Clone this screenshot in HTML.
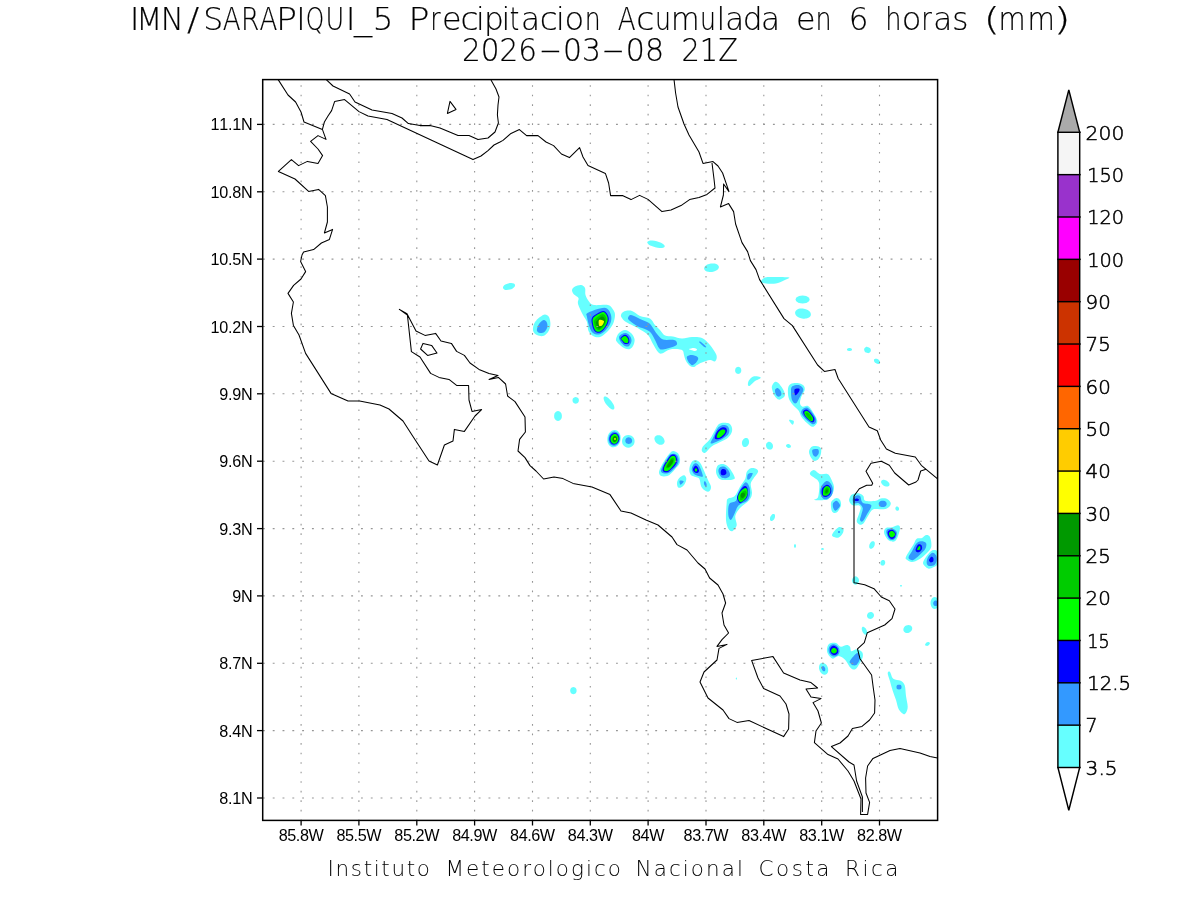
<!DOCTYPE html>
<html><head><meta charset="utf-8"><title>IMN SARAPIQUI_5 Precipitacion Acumulada</title>
<style>html,body{margin:0;padding:0;background:#fff}svg{display:block}</style></head>
<body>
<svg width="1200" height="900" viewBox="0 0 1200 900" style="will-change:transform">
<rect width="1200" height="900" fill="#fff"/>
<clipPath id="cp"><rect x="262.7" y="79.6" width="674.9" height="740.8"/></clipPath>
<g clip-path="url(#cp)" shape-rendering="auto">
<path d="M664.7 246.5C664.6 247.0 664.0 247.4 663.2 247.7C662.4 247.9 661.0 248.1 659.7 248.0C658.4 247.9 656.7 247.7 655.3 247.3C653.8 246.9 652.2 246.4 651.0 245.8C649.8 245.3 648.7 244.5 648.1 243.9C647.4 243.3 647.1 242.6 647.3 242.1C647.4 241.6 648.0 241.2 648.8 240.9C649.6 240.7 651.0 240.5 652.3 240.6C653.6 240.7 655.3 240.9 656.7 241.3C658.2 241.7 659.8 242.2 661.0 242.8C662.2 243.3 663.3 244.1 663.9 244.7C664.6 245.3 664.9 246.0 664.7 246.5Z" fill="#66ffff"/>
<path d="M718.9 266.7C719.0 267.3 718.8 268.2 718.2 268.9C717.7 269.6 716.7 270.3 715.7 270.8C714.7 271.3 713.3 271.7 712.1 271.9C710.8 272.0 709.4 272.0 708.3 271.8C707.2 271.6 706.1 271.2 705.4 270.7C704.7 270.2 704.2 269.4 704.1 268.7C704.0 268.1 704.2 267.2 704.8 266.5C705.3 265.8 706.3 265.1 707.3 264.6C708.3 264.1 709.7 263.7 710.9 263.5C712.2 263.4 713.6 263.4 714.7 263.6C715.8 263.8 716.9 264.2 717.6 264.7C718.3 265.2 718.8 266.0 718.9 266.7Z" fill="#66ffff"/>
<path d="M761.0 281.5C761.3 280.6 762.7 278.2 765.0 277.5C767.3 276.8 771.0 277.0 775.0 277.0C779.0 277.0 787.2 277.1 789.0 277.5C790.8 277.9 787.8 278.6 786.0 279.5C784.2 280.4 780.7 282.3 778.0 283.0C775.3 283.7 772.5 283.8 770.0 283.8C767.5 283.8 764.5 283.4 763.0 283.0C761.5 282.6 760.7 282.4 761.0 281.5Z" fill="#66ffff"/>
<path d="M809.6 299.5C809.6 300.2 809.2 301.0 808.7 301.6C808.1 302.1 807.1 302.7 806.1 303.1C805.1 303.4 803.8 303.6 802.6 303.6C801.4 303.6 800.1 303.4 799.1 303.1C798.1 302.7 797.1 302.1 796.5 301.6C796.0 301.0 795.6 300.2 795.6 299.5C795.6 298.8 796.0 298.0 796.5 297.4C797.1 296.9 798.1 296.3 799.1 295.9C800.1 295.6 801.4 295.4 802.6 295.4C803.8 295.4 805.1 295.6 806.1 295.9C807.1 296.3 808.1 296.9 808.7 297.4C809.2 298.0 809.6 298.8 809.6 299.5Z" fill="#66ffff"/>
<path d="M810.9 315.0C810.7 315.8 810.2 316.7 809.4 317.3C808.6 317.9 807.4 318.3 806.2 318.6C805.0 318.8 803.4 318.8 802.1 318.5C800.8 318.3 799.4 317.8 798.3 317.2C797.2 316.6 796.3 315.7 795.7 314.9C795.2 314.0 795.0 313.0 795.1 312.2C795.3 311.4 795.8 310.5 796.6 309.9C797.4 309.3 798.6 308.9 799.8 308.6C801.0 308.4 802.6 308.4 803.9 308.7C805.2 308.9 806.6 309.4 807.7 310.0C808.8 310.6 809.7 311.5 810.3 312.3C810.8 313.2 811.0 314.2 810.9 315.0Z" fill="#66ffff"/>
<path d="M852.0 349.5C852.0 349.8 851.9 350.0 851.7 350.2C851.5 350.5 851.1 350.7 850.8 350.8C850.4 350.9 849.9 351.0 849.5 351.0C849.1 351.0 848.6 350.9 848.2 350.8C847.9 350.7 847.5 350.5 847.3 350.2C847.1 350.0 847.0 349.8 847.0 349.5C847.0 349.2 847.1 349.0 847.3 348.8C847.5 348.5 847.9 348.3 848.2 348.2C848.6 348.1 849.1 348.0 849.5 348.0C849.9 348.0 850.4 348.1 850.8 348.2C851.1 348.3 851.5 348.5 851.7 348.8C851.9 349.0 852.0 349.2 852.0 349.5Z" fill="#66ffff"/>
<path d="M870.5 351.8C870.3 352.2 869.8 352.6 869.4 352.8C868.9 353.0 868.3 353.2 867.7 353.1C867.2 353.1 866.5 352.9 866.0 352.6C865.5 352.3 865.0 351.8 864.7 351.4C864.4 350.9 864.2 350.3 864.1 349.8C864.1 349.3 864.2 348.7 864.5 348.2C864.7 347.8 865.2 347.4 865.6 347.2C866.1 347.0 866.7 346.8 867.3 346.9C867.8 346.9 868.5 347.1 869.0 347.4C869.5 347.7 870.0 348.2 870.3 348.6C870.6 349.1 870.8 349.7 870.9 350.2C870.9 350.7 870.8 351.3 870.5 351.8Z" fill="#66ffff"/>
<path d="M879.8 363.3C879.6 363.6 879.2 363.8 878.8 363.9C878.4 364.0 877.8 364.0 877.3 363.8C876.8 363.7 876.2 363.4 875.7 363.1C875.3 362.8 874.8 362.3 874.5 361.9C874.2 361.5 874.0 360.9 874.0 360.5C873.9 360.1 874.0 359.7 874.2 359.3C874.4 359.0 874.8 358.8 875.2 358.7C875.6 358.6 876.2 358.6 876.7 358.8C877.2 358.9 877.8 359.2 878.3 359.5C878.7 359.8 879.2 360.3 879.5 360.7C879.8 361.1 880.0 361.7 880.0 362.1C880.1 362.5 880.0 362.9 879.8 363.3Z" fill="#66ffff"/>
<path d="M741.3 370.4C741.3 371.0 741.1 371.7 740.9 372.2C740.6 372.8 740.2 373.3 739.8 373.6C739.3 373.9 738.7 374.1 738.2 374.1C737.7 374.1 737.1 373.9 736.7 373.6C736.2 373.3 735.8 372.8 735.5 372.2C735.3 371.7 735.1 371.0 735.1 370.4C735.1 369.8 735.3 369.1 735.5 368.5C735.8 368.0 736.2 367.5 736.7 367.2C737.1 366.9 737.7 366.7 738.2 366.7C738.7 366.7 739.3 366.9 739.8 367.2C740.2 367.5 740.6 368.0 740.9 368.5C741.1 369.1 741.3 369.8 741.3 370.4Z" fill="#66ffff"/>
<path d="M748.0 385.3C747.8 384.5 747.9 382.1 748.7 380.7C749.5 379.3 751.2 377.4 752.7 376.7C754.2 376.0 756.7 376.2 758.0 376.4C759.3 376.6 761.2 377.2 760.7 378.0C760.2 378.8 756.5 380.0 754.7 381.3C752.9 382.6 751.1 385.0 750.0 385.7C748.9 386.4 748.2 386.1 748.0 385.3Z" fill="#66ffff"/>
<path d="M515.0 284.9C515.1 285.4 515.0 286.1 514.6 286.7C514.2 287.2 513.5 287.9 512.7 288.4C511.9 288.9 510.8 289.3 509.8 289.6C508.8 289.9 507.7 290.0 506.7 290.0C505.8 290.0 504.8 289.7 504.2 289.4C503.6 289.1 503.1 288.6 503.0 288.1C502.9 287.6 503.0 286.9 503.4 286.3C503.8 285.8 504.5 285.1 505.3 284.6C506.1 284.1 507.2 283.7 508.2 283.4C509.2 283.1 510.3 283.0 511.3 283.0C512.2 283.0 513.2 283.3 513.8 283.6C514.4 283.9 514.9 284.4 515.0 284.9Z" fill="#66ffff"/>
<path d="M533.0 328.0C533.2 326.3 533.8 323.8 535.0 322.0C536.2 320.2 538.3 318.3 540.0 317.0C541.7 315.7 543.5 314.4 545.0 314.4C546.5 314.4 548.1 315.2 549.0 317.0C549.9 318.8 550.6 322.5 550.4 325.0C550.2 327.5 549.2 330.2 548.0 332.0C546.8 333.8 544.8 335.5 543.0 336.0C541.2 336.5 538.6 335.7 537.0 335.0C535.4 334.3 534.3 333.2 533.6 332.0C532.9 330.8 532.8 329.7 533.0 328.0Z" fill="#66ffff"/>
<path d="M537.0 329.0C537.3 327.7 537.9 325.5 539.0 324.0C540.1 322.5 542.3 320.3 543.6 320.0C544.9 319.7 546.0 320.8 546.6 322.0C547.2 323.2 547.8 325.3 547.4 327.0C547.0 328.7 545.6 331.0 544.4 332.0C543.2 333.0 541.2 333.1 540.0 333.0C538.8 332.9 537.9 332.3 537.4 331.6C536.9 330.9 536.7 330.3 537.0 329.0Z" fill="#3399ff"/>
<path d="M572.0 290.0C572.2 288.7 573.5 287.3 575.0 286.5C576.5 285.7 579.3 284.8 581.0 285.0C582.7 285.2 584.2 286.3 585.0 288.0C585.8 289.7 584.8 292.8 585.5 295.0C586.2 297.2 587.6 299.8 589.0 301.5C590.4 303.2 590.8 304.4 594.0 305.0C597.2 305.6 604.8 304.2 608.0 305.0C611.2 305.8 611.8 307.8 613.0 309.5C614.2 311.2 615.0 312.6 615.0 315.0C615.0 317.4 614.3 321.2 613.0 324.0C611.7 326.8 609.2 329.8 607.0 332.0C604.8 334.2 602.3 336.3 600.0 337.0C597.7 337.7 594.9 337.0 593.0 336.0C591.1 335.0 589.5 333.3 588.5 331.0C587.5 328.7 587.9 324.7 587.0 322.0C586.1 319.3 584.5 318.0 583.0 315.0C581.5 312.0 578.8 306.8 578.0 304.0C577.2 301.2 579.2 299.6 578.5 298.0C577.8 296.4 575.1 295.8 574.0 294.5C572.9 293.2 571.8 291.3 572.0 290.0Z" fill="#66ffff"/>
<path d="M587.5 313.0C589.7 311.6 596.8 309.2 600.0 308.5C603.2 307.8 605.2 307.4 607.0 308.5C608.8 309.6 610.4 312.6 611.0 315.0C611.6 317.4 611.5 320.3 610.5 323.0C609.5 325.7 606.9 329.1 605.0 331.0C603.1 332.9 601.0 334.2 599.0 334.5C597.0 334.8 594.6 334.2 593.0 333.0C591.4 331.8 590.5 329.7 589.5 327.0C588.5 324.3 587.3 319.3 587.0 317.0C586.7 314.7 585.3 314.4 587.5 313.0Z" fill="#3399ff"/>
<path d="M592.2 317.5C593.6 315.3 598.4 312.8 600.5 311.8C602.6 310.8 603.7 310.6 605.0 311.5C606.3 312.4 608.0 315.1 608.5 317.0C609.0 318.9 608.8 320.9 608.0 323.0C607.2 325.1 605.5 327.9 604.0 329.5C602.5 331.1 600.6 332.6 599.0 332.8C597.4 333.1 595.6 332.3 594.5 331.0C593.4 329.7 592.6 327.2 592.2 325.0C591.8 322.8 590.8 319.7 592.2 317.5Z" fill="#0000ff"/>
<path d="M593.2 318.0C594.5 316.0 598.9 313.7 600.8 312.8C602.7 311.9 603.4 311.8 604.5 312.5C605.6 313.2 607.1 315.5 607.5 317.2C607.9 318.9 607.7 320.9 607.0 322.8C606.3 324.7 604.8 327.3 603.5 328.8C602.2 330.3 600.4 331.6 599.0 331.8C597.6 332.0 596.2 331.4 595.2 330.2C594.2 329.0 593.5 326.8 593.2 324.8C592.9 322.8 591.9 320.0 593.2 318.0Z" fill="#00ff00"/>
<path d="M594.5 320.0C595.6 318.3 599.4 315.4 601.0 314.5C602.6 313.6 603.1 313.9 604.0 314.5C604.9 315.1 606.0 316.6 606.2 318.0C606.5 319.4 606.1 321.4 605.5 323.0C604.9 324.6 603.6 326.3 602.5 327.5C601.4 328.7 600.0 329.8 599.0 330.0C598.0 330.2 597.0 329.4 596.2 328.5C595.5 327.6 594.8 325.9 594.5 324.5C594.2 323.1 593.4 321.7 594.5 320.0Z" fill="#00cc00"/>
<path d="M596.2 321.5C597.0 320.3 599.8 317.8 601.0 317.0C602.2 316.2 602.8 316.5 603.5 317.0C604.2 317.5 604.9 318.8 605.0 320.0C605.1 321.2 604.6 322.8 604.0 324.0C603.4 325.2 602.3 326.2 601.5 327.0C600.7 327.8 599.7 328.5 599.0 328.5C598.3 328.5 597.7 327.8 597.2 327.0C596.7 326.2 596.4 324.9 596.2 324.0C596.0 323.1 595.4 322.7 596.2 321.5Z" fill="#009900"/>
<path d="M599.0 320.0C599.7 319.2 602.2 320.2 603.0 320.5C603.8 320.8 604.1 321.1 604.0 321.8C603.9 322.6 603.0 324.3 602.5 325.0C602.0 325.7 601.6 325.9 601.0 326.0C600.4 326.1 599.3 326.5 599.0 325.5C598.7 324.5 598.3 320.8 599.0 320.0Z" fill="#ffff00"/>
<path d="M616.0 339.0C616.3 337.5 617.5 334.5 619.0 333.0C620.5 331.5 623.0 330.0 625.0 330.0C627.0 330.0 629.4 331.5 631.0 333.0C632.6 334.5 634.1 337.0 634.5 339.0C634.9 341.0 634.2 343.3 633.5 345.0C632.8 346.7 631.4 348.4 630.0 349.0C628.6 349.6 626.7 349.2 625.0 348.5C623.3 347.8 621.3 346.1 620.0 345.0C618.7 343.9 617.7 343.0 617.0 342.0C616.3 341.0 615.7 340.5 616.0 339.0Z" fill="#66ffff"/>
<path d="M619.0 337.0C619.2 335.6 620.8 334.7 622.0 334.0C623.2 333.3 624.7 332.7 626.0 333.0C627.3 333.3 629.1 334.7 630.0 336.0C630.9 337.3 631.7 339.3 631.5 341.0C631.3 342.7 630.1 345.2 629.0 346.0C627.9 346.8 626.3 346.6 625.0 346.0C623.7 345.4 622.0 344.0 621.0 342.5C620.0 341.0 618.8 338.4 619.0 337.0Z" fill="#3399ff"/>
<path d="M620.5 338.0C621.0 337.0 623.6 334.8 625.0 334.8C626.4 334.8 628.1 336.6 628.8 338.0C629.5 339.4 629.6 342.0 629.0 343.0C628.4 344.0 626.2 344.3 625.0 344.0C623.8 343.7 622.8 342.0 622.0 341.0C621.2 340.0 620.0 339.0 620.5 338.0Z" fill="#0000ff"/>
<path d="M621.2 338.5C621.6 337.8 623.9 335.9 625.0 336.0C626.1 336.1 627.5 337.7 628.0 338.8C628.5 339.9 628.5 341.8 628.0 342.5C627.5 343.2 625.9 343.1 625.0 342.8C624.1 342.5 623.1 341.2 622.5 340.5C621.9 339.8 620.8 339.2 621.2 338.5Z" fill="#00ff00"/>
<path d="M621.0 315.0C621.3 313.9 622.2 312.2 624.0 311.5C625.8 310.8 629.3 310.2 632.0 311.0C634.7 311.8 637.0 314.8 640.0 316.0C643.0 317.2 647.5 317.0 650.0 318.5C652.5 320.0 653.3 323.1 655.0 325.0C656.7 326.9 658.3 328.2 660.0 330.0C661.7 331.8 662.8 334.4 665.0 335.5C667.2 336.6 670.2 336.0 673.0 336.5C675.8 337.0 678.8 338.4 682.0 338.5C685.2 338.6 688.7 337.1 692.0 337.0C695.3 336.9 699.0 336.7 702.0 338.0C705.0 339.3 707.7 342.3 710.0 345.0C712.3 347.7 714.9 351.7 716.0 354.0C717.1 356.3 716.8 357.8 716.5 359.0C716.2 360.2 715.6 361.3 714.5 361.5C713.4 361.7 712.1 359.8 710.0 360.0C707.9 360.2 704.2 361.7 702.0 362.5C699.8 363.3 698.3 364.2 697.0 365.0C695.7 365.8 695.2 366.8 694.0 367.0C692.8 367.2 691.3 367.0 690.0 366.0C688.7 365.0 687.0 362.8 686.0 361.0C685.0 359.2 684.5 356.7 684.0 355.0C683.5 353.3 683.7 351.9 683.0 351.0C682.3 350.1 682.2 349.8 680.0 349.5C677.8 349.2 673.0 348.8 670.0 349.5C667.0 350.2 664.0 353.1 662.0 353.5C660.0 353.9 659.5 353.6 658.0 352.0C656.5 350.4 654.7 346.8 653.0 344.0C651.3 341.2 650.2 337.4 648.0 335.0C645.8 332.6 642.0 330.8 640.0 329.5C638.0 328.2 638.3 328.2 636.0 327.0C633.7 325.8 628.3 323.5 626.0 322.0C623.7 320.5 622.8 319.2 622.0 318.0C621.2 316.8 620.7 316.1 621.0 315.0Z" fill="#66ffff"/>
<path d="M628.0 318.0C628.2 317.0 629.0 314.8 631.0 315.0C633.0 315.2 637.0 317.7 640.0 319.0C643.0 320.3 646.8 321.5 649.0 323.0C651.2 324.5 651.7 326.2 653.0 328.0C654.3 329.8 655.3 332.1 657.0 334.0C658.7 335.9 660.2 338.5 663.0 339.5C665.8 340.5 671.7 339.4 674.0 340.0C676.3 340.6 676.8 342.0 677.0 343.0C677.2 344.0 677.3 344.9 675.0 346.0C672.7 347.1 665.7 349.2 663.0 349.5C660.3 349.8 660.3 349.6 659.0 348.0C657.7 346.4 656.3 342.5 655.0 340.0C653.7 337.5 652.5 334.8 651.0 333.0C649.5 331.2 648.2 330.6 646.0 329.5C643.8 328.4 640.7 327.9 638.0 326.5C635.3 325.1 631.7 322.4 630.0 321.0C628.3 319.6 627.8 319.0 628.0 318.0Z" fill="#3399ff"/>
<path d="M687.0 356.5C687.7 355.5 690.2 354.9 692.0 355.0C693.8 355.1 696.5 356.2 697.5 357.0C698.5 357.8 698.3 358.8 697.8 360.0C697.3 361.2 695.5 363.2 694.5 364.0C693.5 364.8 692.6 365.5 691.5 365.0C690.4 364.5 688.8 362.4 688.0 361.0C687.2 359.6 686.3 357.5 687.0 356.5Z" fill="#3399ff"/>
<path d="M699.0 342.0C698.8 341.5 699.8 341.2 701.0 342.0C702.2 342.8 705.3 345.6 706.0 346.5C706.7 347.4 705.7 347.6 705.0 347.3C704.3 347.1 703.0 345.9 702.0 345.0C701.0 344.1 699.2 342.5 699.0 342.0Z" fill="#3399ff"/>
<path d="M689.0 349.0C689.5 348.7 692.7 347.9 694.0 348.0C695.3 348.1 696.8 349.0 697.0 349.5C697.2 350.0 696.0 350.9 695.0 351.0C694.0 351.1 692.0 350.3 691.0 350.0C690.0 349.7 688.5 349.3 689.0 349.0Z" fill="#ffffff"/>
<path d="M772.0 386.0C772.4 384.7 773.7 382.6 774.7 382.0C775.7 381.4 776.7 381.6 778.0 382.7C779.3 383.8 781.5 386.7 782.7 388.7C783.9 390.7 785.0 393.1 785.0 394.7C785.0 396.2 783.8 397.2 782.7 398.0C781.7 398.8 780.0 399.9 778.7 399.6C777.4 399.3 775.8 397.6 774.7 396.0C773.6 394.4 772.8 391.7 772.3 390.0C771.8 388.3 771.6 387.3 772.0 386.0Z" fill="#66ffff"/>
<path d="M775.0 390.0C775.3 388.9 776.6 387.8 777.6 388.0C778.6 388.2 780.1 390.2 780.7 391.3C781.3 392.4 781.6 393.8 781.3 394.7C781.0 395.6 779.6 396.7 778.7 396.7C777.8 396.7 776.6 395.8 776.0 394.7C775.4 393.6 774.7 391.1 775.0 390.0Z" fill="#3399ff"/>
<path d="M788.0 388.7C788.3 386.4 789.2 384.9 790.7 384.0C792.2 383.1 795.2 382.8 797.3 383.0C799.4 383.2 802.1 384.1 803.3 385.3C804.5 386.5 805.0 388.1 804.7 390.0C804.4 391.9 802.1 394.5 801.3 396.7C800.5 398.9 799.8 401.6 800.0 403.3C800.2 405.0 801.4 406.2 802.7 406.7C804.0 407.1 806.2 405.0 808.0 406.0C809.8 407.0 811.8 410.2 813.3 412.7C814.8 415.1 817.0 418.6 817.3 420.7C817.6 422.8 816.2 424.3 815.3 425.3C814.4 426.3 813.4 427.1 812.0 426.7C810.6 426.3 808.5 424.4 806.7 422.7C804.9 421.0 802.6 418.7 801.3 416.7C800.0 414.7 800.1 412.7 798.7 410.7C797.3 408.7 794.4 406.8 792.7 404.7C791.0 402.6 789.5 400.7 788.7 398.0C787.9 395.3 787.7 391.0 788.0 388.7Z" fill="#66ffff"/>
<path d="M791.0 390.0C791.1 387.7 791.4 386.8 792.7 386.0C794.0 385.2 797.0 384.7 798.7 385.0C800.4 385.3 802.0 386.9 802.7 388.0C803.4 389.1 803.5 389.9 803.0 391.3C802.5 392.8 801.2 394.7 800.0 396.7C798.8 398.7 797.3 402.8 796.0 403.3C794.7 403.9 792.8 402.2 792.0 400.0C791.2 397.8 790.9 392.3 791.0 390.0Z" fill="#3399ff"/>
<path d="M794.7 389.3C795.4 388.2 798.6 388.2 799.3 388.7C800.0 389.1 799.4 390.9 798.7 392.0C798.0 393.1 796.0 395.8 795.3 395.3C794.6 394.9 794.0 390.4 794.7 389.3Z" fill="#0000ff"/>
<path d="M801.3 411.3C801.6 410.2 802.9 408.9 804.0 408.3C805.1 407.8 806.5 407.1 808.0 408.0C809.5 408.9 812.0 412.1 813.3 414.0C814.6 415.9 815.7 417.8 816.0 419.3C816.3 420.9 816.0 422.5 815.3 423.3C814.6 424.1 813.4 424.6 812.0 424.0C810.6 423.4 808.4 421.6 806.7 420.0C805.0 418.4 802.9 416.1 802.0 414.7C801.1 413.2 801.0 412.4 801.3 411.3Z" fill="#3399ff"/>
<path d="M803.0 412.0C803.0 410.8 804.3 409.9 805.3 409.7C806.2 409.5 807.2 409.4 808.7 410.7C810.2 412.0 813.1 415.5 814.0 417.3C814.9 419.1 814.5 420.5 814.0 421.3C813.5 422.1 812.8 422.8 811.3 422.0C809.8 421.2 806.7 418.4 805.3 416.7C803.9 415.0 803.0 413.2 803.0 412.0Z" fill="#0000ff"/>
<path d="M804.3 412.7C804.3 411.8 805.3 411.1 806.0 411.0C806.7 410.9 807.6 410.9 808.7 412.0C809.8 413.1 812.0 415.9 812.7 417.3C813.4 418.8 813.0 420.1 812.7 420.7C812.4 421.3 811.8 421.7 810.7 421.0C809.6 420.3 807.1 417.8 806.0 416.4C804.9 415.0 804.3 413.6 804.3 412.7Z" fill="#00ff00"/>
<path d="M805.6 413.4C805.6 412.8 806.5 412.6 807.0 412.6C807.5 412.6 808.1 412.8 808.9 413.6C809.7 414.4 811.1 416.5 811.6 417.5C812.1 418.5 811.8 419.4 811.6 419.8C811.4 420.2 811.0 420.4 810.2 419.9C809.4 419.3 807.8 417.6 807.0 416.5C806.2 415.4 805.6 414.0 805.6 413.4Z" fill="#00cc00"/>
<path d="M789.0 420.0C789.2 419.4 793.1 420.2 793.7 421.0C794.3 421.8 793.3 424.9 792.5 424.7C791.7 424.5 788.8 420.6 789.0 420.0Z" fill="#66ffff"/>
<path d="M748.9 443.4C748.7 444.1 748.3 444.9 747.8 445.5C747.4 446.1 746.7 446.6 746.2 446.8C745.6 447.0 744.9 447.1 744.3 446.9C743.7 446.8 743.2 446.4 742.8 445.9C742.4 445.4 742.1 444.7 742.0 443.9C741.9 443.2 741.9 442.3 742.1 441.6C742.3 440.9 742.7 440.1 743.2 439.5C743.6 438.9 744.3 438.4 744.8 438.2C745.4 438.0 746.1 437.9 746.7 438.1C747.3 438.2 747.8 438.6 748.2 439.1C748.6 439.6 748.9 440.3 749.0 441.1C749.1 441.8 749.1 442.7 748.9 443.4Z" fill="#66ffff"/>
<path d="M772.7 444.6C772.9 445.3 773.0 446.0 773.0 446.7C772.9 447.3 772.6 448.0 772.3 448.5C771.9 449.0 771.4 449.4 770.9 449.6C770.3 449.8 769.7 449.8 769.1 449.6C768.5 449.5 767.9 449.1 767.4 448.7C767.0 448.2 766.5 447.6 766.3 447.0C766.1 446.3 766.0 445.6 766.0 444.9C766.1 444.3 766.4 443.6 766.7 443.1C767.1 442.6 767.6 442.2 768.1 442.0C768.7 441.8 769.3 441.8 769.9 442.0C770.5 442.1 771.1 442.5 771.6 442.9C772.0 443.4 772.5 444.0 772.7 444.6Z" fill="#66ffff"/>
<path d="M790.8 446.9C790.7 447.2 790.5 447.4 790.2 447.6C789.9 447.8 789.5 447.9 789.1 448.0C788.7 448.0 788.2 447.9 787.9 447.8C787.5 447.6 787.0 447.4 786.8 447.1C786.5 446.8 786.2 446.5 786.1 446.2C786.0 445.8 786.0 445.4 786.2 445.1C786.3 444.8 786.5 444.6 786.8 444.4C787.1 444.2 787.5 444.1 787.9 444.0C788.3 444.0 788.8 444.1 789.1 444.2C789.5 444.4 790.0 444.6 790.2 444.9C790.5 445.2 790.8 445.5 790.9 445.8C791.0 446.2 791.0 446.6 790.8 446.9Z" fill="#66ffff"/>
<path d="M809.0 452.0C809.0 450.2 810.1 448.0 811.3 447.0C812.5 446.0 814.4 445.8 816.0 446.0C817.6 446.2 819.9 446.8 820.7 448.0C821.5 449.2 821.3 451.5 821.0 453.3C820.7 455.1 819.8 457.4 818.7 458.7C817.7 460.0 815.9 461.1 814.7 461.0C813.5 460.9 812.2 459.5 811.3 458.0C810.3 456.5 809.0 453.8 809.0 452.0Z" fill="#66ffff"/>
<path d="M812.4 450.0C813.2 449.0 817.0 448.8 818.0 449.3C819.0 449.9 819.0 452.1 818.7 453.3C818.4 454.5 816.9 456.4 816.0 456.7C815.1 457.0 813.9 456.4 813.3 455.3C812.7 454.2 811.6 451.0 812.4 450.0Z" fill="#3399ff"/>
<path d="M611.4 401.2C612.2 402.2 613.0 403.5 613.5 404.6C614.0 405.6 614.4 406.7 614.4 407.5C614.5 408.3 614.3 409.0 613.9 409.3C613.5 409.6 612.8 409.6 612.1 409.4C611.3 409.1 610.3 408.5 609.4 407.8C608.5 407.0 607.5 405.9 606.6 404.8C605.8 403.8 605.0 402.5 604.5 401.4C604.0 400.4 603.6 399.3 603.6 398.5C603.5 397.7 603.7 397.0 604.1 396.7C604.5 396.4 605.2 396.4 605.9 396.6C606.7 396.9 607.7 397.5 608.6 398.2C609.5 399.0 610.5 400.1 611.4 401.2Z" fill="#66ffff"/>
<path d="M620.6 439.6C620.4 441.1 619.9 442.6 619.1 443.8C618.4 445.0 617.3 446.0 616.3 446.6C615.2 447.2 613.9 447.5 612.8 447.3C611.7 447.2 610.5 446.5 609.6 445.7C608.8 444.8 608.0 443.5 607.6 442.2C607.3 440.9 607.2 439.2 607.4 437.8C607.6 436.3 608.1 434.8 608.9 433.6C609.6 432.4 610.7 431.4 611.7 430.8C612.8 430.2 614.1 429.9 615.2 430.1C616.3 430.2 617.5 430.9 618.4 431.7C619.2 432.6 620.0 433.9 620.4 435.2C620.7 436.5 620.8 438.2 620.6 439.6Z" fill="#66ffff"/>
<path d="M619.8 439.5C619.7 440.7 619.2 442.0 618.6 442.9C618.0 443.9 617.1 444.7 616.2 445.2C615.3 445.7 614.2 445.9 613.2 445.7C612.3 445.6 611.3 445.1 610.5 444.4C609.8 443.7 609.1 442.6 608.8 441.5C608.5 440.4 608.4 439.1 608.6 437.9C608.7 436.7 609.2 435.4 609.8 434.5C610.4 433.5 611.3 432.7 612.2 432.2C613.1 431.7 614.2 431.5 615.2 431.7C616.1 431.8 617.1 432.3 617.9 433.0C618.6 433.7 619.3 434.8 619.6 435.9C619.9 437.0 620.0 438.3 619.8 439.5Z" fill="#3399ff"/>
<path d="M619.3 439.5C619.1 440.4 618.7 441.5 618.2 442.3C617.7 443.0 616.9 443.7 616.1 444.1C615.4 444.5 614.4 444.7 613.6 444.5C612.8 444.4 611.9 444.0 611.3 443.4C610.6 442.9 610.1 442.0 609.8 441.1C609.5 440.2 609.4 439.1 609.5 438.1C609.7 437.2 610.1 436.1 610.6 435.3C611.1 434.6 611.9 433.9 612.7 433.5C613.4 433.1 614.4 432.9 615.2 433.1C616.0 433.2 616.9 433.6 617.5 434.2C618.2 434.7 618.7 435.6 619.0 436.5C619.3 437.4 619.4 438.5 619.3 439.5Z" fill="#0000ff"/>
<path d="M618.5 439.5C618.3 440.3 618.0 441.2 617.6 441.8C617.2 442.5 616.5 443.1 615.9 443.4C615.3 443.7 614.5 443.8 613.8 443.8C613.2 443.7 612.4 443.3 611.9 442.8C611.4 442.3 611.0 441.6 610.7 440.8C610.5 440.1 610.4 439.2 610.5 438.3C610.7 437.5 611.0 436.6 611.4 436.0C611.8 435.3 612.5 434.7 613.1 434.4C613.7 434.1 614.5 434.0 615.2 434.0C615.8 434.1 616.6 434.5 617.1 435.0C617.6 435.5 618.0 436.2 618.3 437.0C618.5 437.7 618.6 438.6 618.5 439.5Z" fill="#00ff00"/>
<path d="M617.1 439.3C617.0 439.8 616.8 440.4 616.6 440.8C616.3 441.2 615.9 441.5 615.6 441.7C615.2 441.9 614.8 442.0 614.4 442.0C614.0 441.9 613.6 441.7 613.3 441.4C613.0 441.1 612.7 440.7 612.6 440.2C612.5 439.8 612.5 439.2 612.5 438.7C612.6 438.2 612.8 437.6 613.0 437.2C613.3 436.8 613.7 436.5 614.0 436.3C614.4 436.1 614.8 436.0 615.2 436.0C615.6 436.1 616.0 436.3 616.3 436.6C616.6 436.9 616.9 437.3 617.0 437.8C617.1 438.2 617.1 438.8 617.1 439.3Z" fill="#009900"/>
<path d="M615.9 439.0C615.9 439.1 615.9 439.3 615.8 439.4C615.7 439.6 615.6 439.7 615.5 439.8C615.3 439.9 615.1 439.9 615.0 439.9C614.9 439.9 614.7 439.9 614.5 439.8C614.4 439.7 614.3 439.6 614.2 439.4C614.1 439.3 614.1 439.1 614.1 439.0C614.1 438.9 614.1 438.7 614.2 438.6C614.3 438.4 614.4 438.3 614.5 438.2C614.7 438.1 614.9 438.1 615.0 438.1C615.1 438.1 615.3 438.1 615.5 438.2C615.6 438.3 615.7 438.4 615.8 438.6C615.9 438.7 615.9 438.9 615.9 439.0Z" fill="#ffff00"/>
<path d="M634.6 441.3C634.6 442.4 634.3 443.6 633.8 444.5C633.2 445.4 632.4 446.3 631.4 446.8C630.5 447.4 629.3 447.7 628.3 447.7C627.2 447.7 626.1 447.4 625.1 446.8C624.2 446.3 623.4 445.4 622.8 444.5C622.3 443.6 622.0 442.4 622.0 441.3C622.0 440.2 622.3 439.0 622.8 438.1C623.4 437.2 624.2 436.3 625.1 435.8C626.1 435.2 627.2 434.9 628.3 434.9C629.3 434.9 630.5 435.2 631.4 435.8C632.4 436.3 633.2 437.2 633.8 438.1C634.3 439.0 634.6 440.2 634.6 441.3Z" fill="#66ffff"/>
<path d="M632.1 440.7C632.1 441.3 631.9 441.9 631.6 442.4C631.4 442.9 630.9 443.4 630.4 443.6C629.9 443.9 629.3 444.1 628.7 444.1C628.1 444.1 627.5 443.9 627.0 443.6C626.5 443.4 626.0 442.9 625.8 442.4C625.5 441.9 625.3 441.3 625.3 440.7C625.3 440.1 625.5 439.5 625.8 439.0C626.0 438.5 626.5 438.0 627.0 437.8C627.5 437.5 628.1 437.3 628.7 437.3C629.3 437.3 629.9 437.5 630.4 437.8C630.9 438.0 631.4 438.5 631.6 439.0C631.9 439.5 632.1 440.1 632.1 440.7Z" fill="#3399ff"/>
<path d="M663.8 443.6C663.3 444.1 662.6 444.6 661.8 444.8C661.1 444.9 660.1 444.9 659.3 444.7C658.4 444.4 657.5 443.9 656.7 443.3C656.0 442.7 655.4 441.8 655.0 441.1C654.6 440.3 654.4 439.3 654.4 438.5C654.4 437.8 654.7 436.9 655.2 436.4C655.7 435.9 656.4 435.4 657.2 435.2C657.9 435.1 658.9 435.1 659.7 435.3C660.6 435.6 661.5 436.1 662.3 436.7C663.0 437.3 663.6 438.2 664.0 438.9C664.4 439.7 664.6 440.7 664.6 441.5C664.6 442.2 664.3 443.1 663.8 443.6Z" fill="#66ffff"/>
<path d="M659.0 472.7C658.9 471.2 659.7 469.5 660.7 467.3C661.8 465.1 663.8 461.7 665.3 459.3C666.8 456.9 668.7 454.4 670.0 453.0C671.3 451.6 672.0 450.9 673.3 451.0C674.6 451.1 676.9 452.0 678.0 453.3C679.1 454.6 679.8 456.9 680.0 458.7C680.2 460.5 680.1 462.3 679.3 464.0C678.5 465.7 676.6 467.1 675.3 468.7C674.0 470.2 672.6 472.1 671.3 473.3C670.0 474.5 669.0 475.6 667.3 476.0C665.6 476.4 662.7 476.6 661.3 476.0C659.9 475.4 659.1 474.1 659.0 472.7Z" fill="#66ffff"/>
<path d="M661.0 471.3C660.8 470.2 661.3 468.7 662.3 466.7C663.2 464.7 665.3 461.4 666.7 459.3C668.1 457.2 669.3 455.2 670.7 454.3C672.1 453.4 674.1 453.6 675.3 454.0C676.5 454.4 677.4 455.5 678.0 456.7C678.6 457.9 678.9 459.8 678.7 461.3C678.5 462.9 677.7 464.6 676.7 466.0C675.7 467.4 674.0 468.8 672.7 470.0C671.4 471.2 670.3 472.4 668.7 473.0C667.1 473.6 664.6 473.6 663.3 473.3C662.0 473.0 661.2 472.4 661.0 471.3Z" fill="#3399ff"/>
<path d="M662.7 470.0C662.7 468.9 663.1 467.2 664.0 465.3C664.9 463.4 666.8 460.4 668.0 458.7C669.2 457.0 670.1 455.6 671.3 455.0C672.5 454.4 674.0 454.4 675.0 455.0C676.0 455.6 676.7 457.5 677.0 458.7C677.3 459.9 677.4 460.8 677.0 462.0C676.6 463.2 675.7 464.8 674.7 466.0C673.8 467.2 672.4 468.3 671.3 469.3C670.2 470.3 669.2 471.5 668.0 471.9C666.8 472.3 665.2 472.2 664.3 471.9C663.4 471.6 662.8 471.1 662.7 470.0Z" fill="#0000ff"/>
<path d="M663.9 469.3C663.9 468.4 664.2 467.3 665.0 465.7C665.8 464.1 667.6 461.3 668.7 459.7C669.8 458.1 670.7 456.9 671.7 456.3C672.7 455.7 674.0 455.8 674.7 456.3C675.4 456.8 675.8 458.3 676.0 459.3C676.2 460.3 676.2 461.2 675.7 462.3C675.2 463.4 674.1 464.6 673.3 465.7C672.5 466.8 671.6 467.8 670.7 468.7C669.8 469.6 669.0 470.4 668.0 470.8C667.0 471.2 665.4 471.1 664.7 470.8C664.0 470.6 663.9 470.2 663.9 469.3Z" fill="#00ff00"/>
<path d="M666.0 466.7C666.3 465.4 668.2 462.1 669.3 460.7C670.3 459.2 671.5 458.2 672.3 458.0C673.1 457.8 674.2 458.4 674.3 459.3C674.4 460.2 673.7 462.1 673.0 463.3C672.3 464.5 671.0 465.9 670.0 466.7C669.0 467.5 668.0 468.3 667.3 468.3C666.6 468.3 665.7 468.0 666.0 466.7Z" fill="#00cc00"/>
<path d="M667.0 466.0C667.2 465.1 668.9 462.8 669.7 461.7C670.5 460.6 671.5 459.4 672.0 459.3C672.5 459.2 673.1 460.4 673.0 461.3C672.9 462.2 672.0 463.7 671.3 464.7C670.6 465.7 669.4 467.1 668.7 467.3C668.0 467.5 666.8 466.9 667.0 466.0Z" fill="#009900"/>
<path d="M702.0 451.3C701.6 450.3 701.5 448.6 702.7 446.7C703.9 444.8 707.5 442.2 709.3 440.0C711.1 437.8 712.0 435.6 713.3 433.3C714.6 431.0 716.0 427.7 717.3 426.0C718.6 424.3 719.4 423.4 721.3 423.0C723.2 422.6 726.9 422.5 728.7 423.3C730.5 424.1 731.6 426.3 732.0 428.0C732.4 429.7 732.2 431.5 731.3 433.3C730.4 435.1 728.8 437.1 726.7 438.7C724.6 440.3 721.3 441.4 718.7 442.7C716.1 444.0 713.5 445.0 711.3 446.7C709.1 448.4 706.8 451.9 705.3 452.7C703.8 453.5 702.4 452.3 702.0 451.3Z" fill="#66ffff"/>
<path d="M710.7 443.3C710.2 442.5 712.2 439.7 713.3 437.3C714.4 434.9 715.8 430.7 717.3 428.7C718.8 426.7 720.3 425.8 722.0 425.3C723.7 424.9 726.1 425.2 727.3 426.0C728.5 426.8 729.2 428.6 729.3 430.0C729.4 431.4 729.1 433.2 728.0 434.7C726.9 436.1 724.7 437.5 722.7 438.7C720.7 439.9 718.0 441.2 716.0 442.0C714.0 442.8 711.2 444.1 710.7 443.3Z" fill="#3399ff"/>
<path d="M714.7 438.0C714.6 436.7 716.1 433.0 717.3 431.3C718.5 429.6 720.5 428.2 722.0 427.6C723.5 427.1 725.2 427.3 726.0 428.0C726.8 428.7 727.2 430.6 726.7 432.0C726.2 433.4 724.8 435.5 723.3 436.7C721.8 437.9 719.4 439.1 718.0 439.3C716.6 439.5 714.8 439.3 714.7 438.0Z" fill="#0000ff"/>
<path d="M716.7 436.7C716.7 435.7 717.8 433.2 718.7 432.0C719.7 430.8 721.4 429.9 722.4 429.6C723.4 429.3 724.6 429.5 725.0 430.0C725.4 430.5 725.5 431.7 725.0 432.7C724.5 433.7 723.0 435.1 722.0 436.0C721.0 436.9 719.6 437.9 718.7 438.0C717.8 438.1 716.7 437.7 716.7 436.7Z" fill="#00ff00"/>
<path d="M689.3 469.3C689.4 467.3 690.3 464.2 691.3 462.7C692.3 461.1 693.8 460.0 695.3 460.0C696.8 460.0 698.5 460.9 700.0 462.7C701.5 464.5 702.7 467.8 704.0 470.7C705.3 473.6 706.8 477.3 708.0 480.0C709.2 482.7 710.8 484.8 711.0 486.7C711.2 488.6 710.2 490.6 709.3 491.3C708.3 492.0 706.6 491.5 705.3 490.7C704.0 489.9 702.3 488.7 701.3 486.7C700.3 484.7 700.4 480.4 699.3 478.7C698.2 477.0 696.1 477.4 694.7 476.7C693.3 476.0 691.6 475.9 690.7 474.7C689.8 473.5 689.2 471.3 689.3 469.3Z" fill="#66ffff"/>
<path d="M691.7 469.3C691.6 467.8 692.6 465.7 693.3 464.7C694.0 463.7 695.0 463.1 696.0 463.3C697.0 463.5 698.3 464.4 699.3 466.0C700.3 467.6 701.4 470.9 702.0 472.7C702.6 474.5 703.2 476.1 702.7 476.7C702.2 477.2 700.2 476.4 698.7 476.0C697.2 475.6 695.2 475.1 694.0 474.0C692.8 472.9 691.8 470.9 691.7 469.3Z" fill="#3399ff"/>
<path d="M693.0 469.3C693.1 468.3 694.3 466.4 695.0 466.0C695.7 465.6 696.6 465.9 697.3 466.7C698.0 467.5 699.0 469.6 699.0 470.7C699.0 471.8 698.1 472.8 697.3 473.0C696.5 473.2 695.1 472.6 694.4 472.0C693.7 471.4 692.9 470.3 693.0 469.3Z" fill="#0000ff"/>
<path d="M697.2 470.0C697.2 470.3 697.1 470.6 697.0 470.8C696.9 471.0 696.8 471.3 696.6 471.4C696.4 471.5 696.2 471.6 696.0 471.6C695.8 471.6 695.6 471.5 695.4 471.4C695.2 471.3 695.1 471.0 695.0 470.8C694.9 470.6 694.8 470.3 694.8 470.0C694.8 469.7 694.9 469.4 695.0 469.2C695.1 469.0 695.2 468.7 695.4 468.6C695.6 468.5 695.8 468.4 696.0 468.4C696.2 468.4 696.4 468.5 696.6 468.6C696.8 468.7 696.9 469.0 697.0 469.2C697.1 469.4 697.2 469.7 697.2 470.0Z" fill="#00ff00"/>
<path d="M706.5 483.7C706.6 484.1 706.7 484.7 706.7 485.1C706.7 485.5 706.6 485.9 706.5 486.2C706.4 486.5 706.2 486.7 706.0 486.7C705.8 486.8 705.6 486.7 705.3 486.5C705.1 486.3 704.9 486.0 704.7 485.6C704.5 485.3 704.3 484.8 704.1 484.3C704.0 483.9 703.9 483.3 703.9 482.9C703.9 482.5 704.0 482.1 704.1 481.8C704.2 481.5 704.4 481.3 704.6 481.3C704.8 481.2 705.0 481.3 705.3 481.5C705.5 481.7 705.7 482.0 705.9 482.4C706.1 482.7 706.3 483.2 706.5 483.7Z" fill="#3399ff"/>
<path d="M677.0 482.7C677.2 481.1 678.1 479.2 679.3 478.0C680.5 476.8 682.8 475.2 684.0 475.3C685.2 475.4 686.2 477.2 686.3 478.7C686.4 480.1 685.5 482.6 684.7 484.0C683.9 485.4 682.4 486.8 681.3 487.3C680.2 487.9 678.7 488.1 678.0 487.3C677.3 486.5 676.8 484.2 677.0 482.7Z" fill="#66ffff"/>
<path d="M679.7 480.7C680.2 480.2 683.6 480.8 683.7 481.5C683.8 482.2 681.2 484.8 680.5 484.7C679.8 484.6 679.2 481.2 679.7 480.7Z" fill="#3399ff"/>
<path d="M716.0 470.7C716.1 468.9 716.8 466.4 718.0 465.3C719.2 464.2 721.4 463.6 723.3 464.0C725.2 464.4 727.4 465.8 729.3 468.0C731.2 470.2 734.2 475.4 734.7 477.3C735.2 479.2 734.2 479.3 732.0 479.7C729.8 480.1 723.8 480.3 721.3 479.7C718.8 479.1 718.2 477.5 717.3 476.0C716.4 474.5 715.9 472.5 716.0 470.7Z" fill="#66ffff"/>
<path d="M718.4 471.3C718.2 469.6 719.0 468.1 720.0 467.3C721.0 466.5 723.2 466.1 724.7 466.7C726.2 467.3 727.8 469.3 728.7 470.7C729.6 472.1 730.3 474.1 730.0 475.3C729.7 476.5 728.2 477.7 726.7 478.0C725.2 478.3 722.7 478.4 721.3 477.3C719.9 476.2 718.6 473.0 718.4 471.3Z" fill="#3399ff"/>
<path d="M720.7 472.0C720.8 471.1 721.2 469.7 722.0 469.3C722.8 468.9 724.6 468.9 725.3 469.6C726.0 470.3 726.6 472.4 726.4 473.3C726.2 474.2 724.9 475.1 724.0 475.3C723.1 475.5 721.8 475.2 721.3 474.7C720.8 474.1 720.6 472.9 720.7 472.0Z" fill="#0000ff"/>
<path d="M746.7 472.0C747.6 470.3 749.2 468.9 750.7 468.3C752.2 467.8 754.8 468.1 756.0 468.7C757.2 469.3 758.5 470.3 758.0 472.0C757.5 473.7 754.5 476.7 753.3 478.7C752.1 480.7 750.9 481.6 750.7 484.0C750.5 486.4 752.2 490.6 752.0 493.3C751.8 496.0 751.3 497.6 749.3 500.0C747.3 502.4 742.3 505.3 740.0 508.0C737.7 510.7 735.8 513.1 735.3 516.0C734.8 518.9 737.1 522.8 736.7 525.3C736.3 527.8 734.0 530.3 732.7 531.0C731.4 531.7 729.8 531.1 728.7 529.3C727.6 527.5 726.3 524.4 726.0 520.0C725.7 515.6 726.4 506.2 726.7 502.7C727.0 499.1 726.7 499.8 728.0 498.7C729.3 497.6 732.7 498.0 734.7 496.0C736.7 494.0 738.2 489.6 740.0 486.7C741.8 483.8 744.2 481.1 745.3 478.7C746.4 476.2 745.8 473.7 746.7 472.0Z" fill="#66ffff"/>
<path d="M748.0 474.0C748.9 473.0 752.4 472.5 752.7 473.3C753.0 474.1 750.9 477.7 750.0 478.7C749.1 479.7 747.6 480.1 747.3 479.3C747.0 478.5 747.1 475.0 748.0 474.0Z" fill="#3399ff"/>
<path d="M745.3 482.4C747.1 481.5 748.5 484.6 749.3 486.7C750.1 488.8 750.4 492.3 750.0 494.7C749.6 497.1 748.6 499.5 746.7 501.3C744.8 503.1 740.8 503.1 738.7 505.3C736.6 507.5 735.3 512.2 734.0 514.7C732.7 517.2 731.7 520.0 730.7 520.0C729.8 520.0 728.5 517.4 728.3 514.7C728.1 512.0 728.0 506.3 729.3 504.0C730.6 501.7 734.4 502.7 736.0 500.7C737.6 498.7 737.2 495.1 738.7 492.0C740.2 488.9 743.5 483.3 745.3 482.4Z" fill="#3399ff"/>
<path d="M745.3 486.0C746.1 486.1 746.8 486.8 747.3 488.0C747.8 489.2 748.1 491.6 748.0 493.3C747.9 495.0 747.5 496.7 746.7 498.0C745.9 499.3 744.4 500.5 743.3 501.3C742.2 502.1 740.9 503.1 740.0 503.0C739.1 502.9 738.5 501.6 738.0 500.7C737.5 499.8 736.8 498.8 737.0 497.3C737.2 495.9 738.3 493.7 739.3 492.0C740.2 490.3 741.7 488.3 742.7 487.3C743.7 486.3 744.5 485.9 745.3 486.0Z" fill="#0000ff"/>
<path d="M743.7 488.7C744.5 488.1 745.1 487.8 745.7 488.0C746.3 488.2 747.0 489.1 747.3 490.0C747.6 490.9 747.9 492.1 747.7 493.3C747.5 494.5 747.0 496.1 746.3 497.3C745.6 498.5 744.3 499.9 743.3 500.7C742.2 501.5 740.8 502.2 740.0 502.0C739.2 501.8 738.6 500.3 738.3 499.3C738.0 498.3 737.9 497.3 738.3 496.0C738.7 494.7 739.8 492.5 740.7 491.3C741.6 490.1 742.9 489.2 743.7 488.7Z" fill="#00ff00"/>
<path d="M743.3 491.3C744.0 491.0 745.1 490.4 745.7 490.7C746.3 491.0 746.7 492.4 746.7 493.3C746.7 494.2 746.3 495.4 745.7 496.3C745.1 497.2 744.1 498.4 743.3 499.0C742.5 499.6 741.3 500.2 740.7 500.0C740.1 499.8 739.8 498.8 739.7 498.0C739.6 497.2 739.7 496.2 740.0 495.3C740.3 494.4 741.2 493.4 741.7 492.7C742.2 492.0 742.6 491.6 743.3 491.3Z" fill="#00cc00"/>
<path d="M741.3 493.3C741.8 492.7 743.4 492.5 744.0 492.7C744.6 492.9 745.0 494.0 745.0 494.7C745.0 495.4 744.5 496.4 744.0 497.0C743.5 497.6 742.5 498.1 742.0 498.0C741.5 497.9 740.8 497.1 740.7 496.3C740.6 495.5 740.8 493.9 741.3 493.3Z" fill="#009900"/>
<path d="M810.0 474.3C809.3 472.5 812.0 470.1 813.7 470.0C815.4 469.9 817.7 473.3 820.0 474.0C822.3 474.7 825.5 473.3 827.3 474.0C829.1 474.7 829.6 475.9 830.7 478.0C831.8 480.1 833.7 484.1 834.0 486.7C834.3 489.2 833.6 491.3 832.7 493.3C831.8 495.3 829.9 497.6 828.7 498.7C827.5 499.8 827.7 499.8 825.3 500.0C822.9 500.2 815.5 500.4 814.3 500.0C813.1 499.6 817.2 499.5 818.0 497.3C818.8 495.1 819.3 489.5 819.3 486.7C819.3 483.9 819.5 482.8 818.0 480.7C816.5 478.6 810.7 476.1 810.0 474.3Z" fill="#66ffff"/>
<path d="M820.3 493.3C820.0 491.3 820.3 488.7 821.3 486.7C822.2 484.7 824.5 482.0 826.0 481.3C827.5 480.6 828.9 481.6 830.0 482.7C831.1 483.8 832.4 486.0 832.7 488.0C833.0 490.0 832.8 492.9 832.0 494.7C831.2 496.5 829.5 498.0 828.0 498.7C826.5 499.4 824.6 499.6 823.3 498.7C822.0 497.8 820.6 495.3 820.3 493.3Z" fill="#3399ff"/>
<path d="M821.7 493.3C821.6 491.9 821.5 489.4 822.3 488.0C823.1 486.6 825.4 485.0 826.7 484.8C828.0 484.6 829.2 485.6 830.0 486.7C830.8 487.8 831.4 489.9 831.3 491.3C831.2 492.7 830.2 494.4 829.3 495.3C828.4 496.2 827.0 496.8 826.0 497.0C825.0 497.2 823.7 496.9 823.0 496.3C822.3 495.7 821.8 494.7 821.7 493.3Z" fill="#0000ff"/>
<path d="M823.0 493.3C823.1 492.2 823.1 489.9 823.7 488.7C824.3 487.5 825.7 486.2 826.7 486.0C827.7 485.8 829.1 486.8 829.7 487.7C830.3 488.6 830.5 490.2 830.3 491.3C830.1 492.4 829.4 493.6 828.7 494.3C828.0 495.0 826.9 495.5 826.0 495.7C825.1 495.9 823.8 495.7 823.3 495.3C822.8 494.9 822.9 494.4 823.0 493.3Z" fill="#00ff00"/>
<path d="M824.3 492.7C824.2 491.9 824.5 490.2 825.0 489.3C825.5 488.4 826.3 487.4 827.0 487.3C827.7 487.2 828.7 488.2 829.0 489.0C829.3 489.8 829.3 491.2 829.0 492.0C828.7 492.8 827.9 493.6 827.3 494.0C826.7 494.4 825.8 494.5 825.3 494.3C824.8 494.1 824.3 493.5 824.3 492.7Z" fill="#00cc00"/>
<path d="M825.3 492.0C825.2 491.5 825.7 490.4 826.0 490.0C826.3 489.6 827.0 489.1 827.3 489.3C827.6 489.5 828.1 490.7 828.0 491.3C827.9 491.9 827.2 492.9 826.7 493.0C826.2 493.1 825.4 492.5 825.3 492.0Z" fill="#009900"/>
<path d="M831.0 502.7C831.3 500.9 832.3 500.5 833.3 499.7C834.2 498.9 835.6 497.9 836.7 498.0C837.8 498.1 839.3 498.8 840.0 500.0C840.7 501.2 841.3 503.4 841.0 505.3C840.7 507.2 839.0 510.0 838.0 511.3C837.0 512.6 835.8 513.1 834.7 513.0C833.7 512.9 832.3 512.4 831.7 510.7C831.1 509.0 830.7 504.5 831.0 502.7Z" fill="#66ffff"/>
<path d="M833.0 503.3C833.5 502.1 835.3 500.8 836.3 500.7C837.2 500.6 838.1 501.8 838.7 502.7C839.3 503.6 840.5 504.7 840.0 506.0C839.5 507.3 836.8 510.4 835.7 510.7C834.6 511.0 833.8 509.2 833.3 508.0C832.8 506.8 832.5 504.5 833.0 503.3Z" fill="#3399ff"/>
<path d="M832.0 535.0C832.1 534.0 833.5 532.0 834.7 530.7C835.9 529.4 837.9 527.3 839.3 527.0C840.7 526.7 842.7 527.7 843.3 528.7C843.9 529.8 843.5 531.8 842.7 533.3C841.9 534.8 840.2 537.0 838.7 537.6C837.2 538.2 835.1 537.4 834.0 537.0C832.9 536.6 831.9 536.0 832.0 535.0Z" fill="#66ffff"/>
<path d="M840.0 532.0C840.0 532.2 839.9 532.4 839.9 532.5C839.8 532.6 839.6 532.8 839.5 532.9C839.4 532.9 839.2 533.0 839.0 533.0C838.8 533.0 838.6 532.9 838.5 532.9C838.4 532.8 838.2 532.6 838.1 532.5C838.1 532.4 838.0 532.2 838.0 532.0C838.0 531.8 838.1 531.6 838.1 531.5C838.2 531.4 838.4 531.2 838.5 531.1C838.6 531.1 838.8 531.0 839.0 531.0C839.2 531.0 839.4 531.1 839.5 531.1C839.6 531.2 839.8 531.4 839.9 531.5C839.9 531.6 840.0 531.8 840.0 532.0Z" fill="#3399ff"/>
<path d="M774.5 518.4C774.2 519.0 773.8 519.6 773.4 520.0C773.0 520.4 772.5 520.8 772.1 520.9C771.7 521.1 771.2 521.1 770.9 520.9C770.6 520.8 770.3 520.4 770.1 520.0C770.0 519.6 769.9 519.0 770.0 518.4C770.0 517.8 770.2 517.1 770.5 516.6C770.8 516.0 771.2 515.4 771.6 515.0C772.0 514.6 772.5 514.2 772.9 514.1C773.3 513.9 773.8 513.9 774.1 514.1C774.4 514.2 774.7 514.6 774.9 515.0C775.0 515.4 775.1 516.0 775.0 516.6C775.0 517.2 774.8 517.9 774.5 518.4Z" fill="#66ffff"/>
<path d="M796.0 546.0C796.0 546.3 795.9 546.7 795.9 547.0C795.8 547.2 795.6 547.5 795.5 547.6C795.4 547.8 795.2 547.9 795.0 547.9C794.8 547.9 794.6 547.8 794.5 547.6C794.4 547.5 794.2 547.2 794.1 547.0C794.1 546.7 794.0 546.3 794.0 546.0C794.0 545.7 794.1 545.3 794.1 545.0C794.2 544.8 794.4 544.5 794.5 544.4C794.6 544.2 794.8 544.1 795.0 544.1C795.2 544.1 795.4 544.2 795.5 544.4C795.6 544.5 795.8 544.8 795.9 545.0C795.9 545.3 796.0 545.7 796.0 546.0Z" fill="#66ffff"/>
<path d="M824.0 549.0C824.0 549.1 823.9 549.3 823.8 549.5C823.7 549.6 823.5 549.7 823.2 549.8C823.0 549.9 822.8 549.9 822.5 549.9C822.2 549.9 822.0 549.9 821.8 549.8C821.5 549.7 821.3 549.6 821.2 549.5C821.1 549.3 821.0 549.1 821.0 549.0C821.0 548.9 821.1 548.7 821.2 548.5C821.3 548.4 821.5 548.3 821.8 548.2C822.0 548.1 822.2 548.1 822.5 548.1C822.8 548.1 823.0 548.1 823.2 548.2C823.5 548.3 823.7 548.4 823.8 548.5C823.9 548.7 824.0 548.9 824.0 549.0Z" fill="#66ffff"/>
<path d="M849.3 498.7C849.7 497.4 850.4 495.3 852.0 494.4C853.6 493.5 856.8 493.0 858.7 493.3C860.6 493.6 862.2 494.8 863.3 496.0C864.4 497.2 863.2 499.9 865.3 500.7C867.4 501.5 873.4 501.1 876.0 500.7C878.6 500.3 878.9 498.7 880.7 498.4C882.5 498.1 885.0 498.0 886.7 498.7C888.4 499.4 890.3 501.4 890.7 502.7C891.1 504.0 890.4 505.6 889.3 506.7C888.2 507.8 886.7 508.9 884.0 509.3C881.3 509.7 876.0 508.2 873.3 509.3C870.6 510.4 869.5 513.8 868.0 516.0C866.5 518.2 865.3 521.2 864.0 522.7C862.7 524.2 861.2 524.9 860.0 524.7C858.8 524.5 856.9 523.0 856.7 521.3C856.5 519.6 858.0 516.9 858.7 514.7C859.4 512.5 860.7 509.6 860.7 508.0C860.7 506.4 860.0 505.8 858.7 505.3C857.4 504.9 854.2 505.9 852.7 505.3C851.2 504.8 850.2 503.1 849.6 502.0C849.0 500.9 848.9 500.0 849.3 498.7Z" fill="#66ffff"/>
<path d="M852.7 499.3C852.9 498.1 854.1 496.6 855.3 496.0C856.5 495.4 858.8 494.9 860.0 496.0C861.2 497.1 860.8 501.1 862.7 502.7C864.6 504.2 870.6 503.3 871.3 505.3C872.0 507.3 868.1 512.0 866.7 514.7C865.3 517.4 863.8 520.4 862.7 521.3C861.6 522.2 860.2 521.1 860.0 520.0C859.8 518.9 860.8 516.7 861.3 514.7C861.8 512.7 863.1 509.9 862.7 508.0C862.3 506.1 860.2 504.1 858.7 503.3C857.2 502.5 855.0 504.0 854.0 503.3C853.0 502.6 852.5 500.5 852.7 499.3Z" fill="#3399ff"/>
<path d="M859.0 499.8C859.0 500.0 858.9 500.3 858.7 500.4C858.5 500.6 858.2 500.8 857.9 500.9C857.5 501.0 857.1 501.1 856.7 501.1C856.3 501.1 855.9 501.0 855.6 500.9C855.2 500.8 854.9 500.6 854.7 500.4C854.5 500.3 854.4 500.0 854.4 499.8C854.4 499.6 854.5 499.3 854.7 499.2C854.9 499.0 855.2 498.8 855.6 498.7C855.9 498.6 856.3 498.5 856.7 498.5C857.1 498.5 857.5 498.6 857.9 498.7C858.2 498.8 858.5 499.0 858.7 499.2C858.9 499.3 859.0 499.6 859.0 499.8Z" fill="#0000ff"/>
<path d="M886.7 503.9C886.7 504.4 886.5 505.0 886.2 505.5C885.8 506.0 885.3 506.4 884.7 506.7C884.1 506.9 883.4 507.1 882.7 507.1C882.0 507.1 881.3 506.9 880.7 506.7C880.1 506.4 879.6 506.0 879.2 505.5C878.9 505.0 878.7 504.4 878.7 503.9C878.7 503.4 878.9 502.8 879.2 502.3C879.6 501.8 880.1 501.4 880.7 501.1C881.3 500.9 882.0 500.7 882.7 500.7C883.4 500.7 884.1 500.9 884.7 501.1C885.3 501.4 885.8 501.8 886.2 502.3C886.5 502.8 886.7 503.4 886.7 503.9Z" fill="#3399ff"/>
<path d="M889.3 485.5C889.0 485.9 888.6 486.3 888.0 486.4C887.5 486.6 886.7 486.6 886.0 486.5C885.3 486.4 884.5 486.1 883.8 485.7C883.2 485.3 882.5 484.8 882.1 484.2C881.6 483.7 881.2 483.0 881.1 482.5C881.0 481.9 881.1 481.3 881.3 480.9C881.6 480.5 882.0 480.1 882.6 480.0C883.1 479.8 883.9 479.8 884.6 479.9C885.3 480.0 886.1 480.3 886.8 480.7C887.4 481.1 888.1 481.6 888.5 482.2C889.0 482.7 889.4 483.4 889.5 483.9C889.6 484.5 889.5 485.1 889.3 485.5Z" fill="#66ffff"/>
<path d="M898.9 508.1C899.0 508.4 899.1 508.9 899.0 509.2C899.0 509.6 898.9 509.9 898.7 510.2C898.5 510.4 898.2 510.7 898.0 510.8C897.7 510.9 897.3 510.9 897.0 510.8C896.7 510.7 896.4 510.5 896.1 510.3C895.9 510.0 895.6 509.7 895.5 509.3C895.4 509.0 895.3 508.5 895.4 508.2C895.4 507.8 895.5 507.5 895.7 507.2C895.9 507.0 896.2 506.7 896.4 506.6C896.7 506.5 897.1 506.5 897.4 506.6C897.7 506.7 898.0 506.9 898.3 507.1C898.5 507.4 898.8 507.7 898.9 508.1Z" fill="#66ffff"/>
<path d="M884.0 532.0C884.0 530.5 884.7 528.8 886.0 528.0C887.3 527.2 890.0 527.8 892.0 527.3C894.0 526.8 896.7 525.2 898.0 525.3C899.3 525.4 900.0 526.2 900.0 528.0C900.0 529.8 898.9 533.8 898.0 536.0C897.1 538.2 896.2 540.5 894.7 541.3C893.2 542.1 890.8 541.4 889.3 540.7C887.8 540.0 886.9 538.8 886.0 537.3C885.1 535.8 884.0 533.5 884.0 532.0Z" fill="#66ffff"/>
<path d="M886.3 532.0C886.2 530.4 886.9 529.5 888.0 529.0C889.1 528.5 891.2 528.2 892.7 528.7C894.2 529.2 896.2 530.6 896.7 532.0C897.2 533.4 896.7 536.0 896.0 537.3C895.3 538.6 893.9 539.8 892.7 540.0C891.5 540.2 889.8 539.7 888.7 538.4C887.6 537.1 886.4 533.6 886.3 532.0Z" fill="#3399ff"/>
<path d="M887.6 532.7C887.6 531.6 888.4 530.8 889.3 530.3C890.1 529.8 891.6 529.5 892.7 530.0C893.8 530.5 895.4 532.1 895.7 533.3C896.0 534.5 895.3 536.3 894.7 537.3C894.1 538.2 893.0 539.0 892.0 539.0C891.0 539.0 889.7 538.0 889.0 537.0C888.3 536.0 887.6 533.8 887.6 532.7Z" fill="#0000ff"/>
<path d="M889.0 533.3C889.2 532.3 890.5 531.2 891.3 531.0C892.1 530.8 893.4 531.4 894.0 532.0C894.6 532.6 895.2 533.9 895.0 534.7C894.8 535.5 893.8 536.7 893.0 537.0C892.2 537.3 891.0 537.3 890.3 536.7C889.6 536.1 888.8 534.2 889.0 533.3Z" fill="#00ff00"/>
<path d="M874.3 546.1C874.0 546.7 873.5 547.3 873.1 547.8C872.7 548.2 872.1 548.6 871.6 548.7C871.2 548.9 870.6 548.9 870.3 548.7C869.9 548.5 869.5 548.2 869.4 547.7C869.2 547.2 869.1 546.6 869.2 545.9C869.2 545.3 869.4 544.6 869.7 543.9C870.0 543.3 870.5 542.7 870.9 542.2C871.3 541.8 871.9 541.4 872.4 541.3C872.8 541.1 873.4 541.1 873.7 541.3C874.1 541.5 874.5 541.8 874.6 542.3C874.8 542.8 874.9 543.4 874.8 544.1C874.8 544.7 874.6 545.4 874.3 546.1Z" fill="#66ffff"/>
<path d="M906.0 556.7C907.0 554.2 911.5 547.7 913.3 544.7C915.1 541.7 915.2 539.8 916.7 538.7C918.2 537.6 920.5 538.6 922.0 538.0C923.5 537.4 924.7 535.2 926.0 535.0C927.3 534.8 929.1 535.0 930.0 537.0C930.9 539.0 931.8 544.0 931.3 546.7C930.8 549.4 928.7 551.2 926.7 553.3C924.7 555.4 921.8 557.8 919.3 559.3C916.8 560.8 914.0 561.9 912.0 562.0C910.0 562.1 908.3 560.9 907.3 560.0C906.3 559.1 905.0 559.2 906.0 556.7Z" fill="#66ffff"/>
<path d="M923.0 562.7C923.1 561.4 924.2 559.7 925.3 558.0C926.3 556.3 928.0 554.0 929.3 552.7C930.6 551.4 932.0 550.1 933.3 550.0C934.6 549.9 936.6 549.7 937.3 552.0C938.0 554.3 938.0 561.5 937.3 564.0C936.6 566.5 934.7 566.5 933.3 567.3C931.9 568.1 930.1 568.9 928.7 568.7C927.3 568.5 925.7 567.0 924.7 566.0C923.8 565.0 922.9 564.0 923.0 562.7Z" fill="#66ffff"/>
<path d="M908.7 556.7C909.1 555.4 910.8 553.4 912.0 551.3C913.2 549.2 914.5 545.7 916.0 544.0C917.5 542.3 919.0 541.5 920.7 541.3C922.4 541.1 925.2 541.8 926.0 543.0C926.8 544.2 926.4 546.7 925.3 548.7C924.2 550.8 921.3 553.4 919.3 555.3C917.3 557.2 914.9 559.3 913.3 560.0C911.7 560.7 910.4 559.8 909.6 559.3C908.8 558.8 908.3 558.0 908.7 556.7Z" fill="#3399ff"/>
<path d="M915.7 549.3C916.0 548.1 917.1 545.4 918.0 544.7C918.9 544.0 920.6 544.3 921.3 545.0C922.0 545.7 922.3 547.5 922.0 548.7C921.7 549.9 920.2 551.5 919.3 552.0C918.3 552.5 916.9 552.2 916.3 551.7C915.7 551.2 915.4 550.5 915.7 549.3Z" fill="#0000ff"/>
<path d="M917.3 548.7C917.6 548.0 918.8 546.3 919.3 546.0C919.8 545.7 920.2 546.1 920.3 546.7C920.4 547.3 920.5 549.1 920.0 549.6C919.5 550.1 918.1 550.1 917.6 550.0C917.1 549.9 917.0 549.4 917.3 548.7Z" fill="#00ff00"/>
<path d="M926.7 561.3C926.9 559.8 927.7 557.4 928.7 556.0C929.7 554.6 931.5 552.8 932.7 552.7C933.9 552.6 935.3 554.1 936.0 555.3C936.7 556.5 936.9 558.4 936.7 560.0C936.5 561.6 935.8 563.7 934.7 564.7C933.6 565.7 931.2 566.0 930.0 566.0C928.8 566.0 927.8 565.5 927.3 564.7C926.8 563.9 926.5 562.8 926.7 561.3Z" fill="#3399ff"/>
<path d="M929.0 560.0C929.1 559.0 930.6 557.0 931.3 556.7C932.0 556.4 933.0 557.2 933.3 558.0C933.6 558.8 933.7 560.6 933.3 561.3C932.9 562.0 931.4 562.6 930.7 562.4C930.0 562.2 928.9 561.0 929.0 560.0Z" fill="#0000ff"/>
<path d="M885.1 563.6C884.9 564.1 884.6 564.5 884.3 564.9C883.9 565.2 883.5 565.5 883.1 565.6C882.7 565.7 882.2 565.7 881.8 565.5C881.4 565.4 881.1 565.1 880.8 564.7C880.6 564.4 880.4 563.9 880.4 563.5C880.3 563.0 880.4 562.4 880.5 562.0C880.7 561.5 881.0 561.1 881.3 560.7C881.7 560.4 882.1 560.1 882.5 560.0C882.9 559.9 883.4 559.9 883.8 560.1C884.2 560.2 884.5 560.5 884.8 560.9C885.0 561.2 885.2 561.7 885.2 562.1C885.3 562.6 885.2 563.2 885.1 563.6Z" fill="#66ffff"/>
<path d="M859.0 580.5C859.0 581.2 858.8 582.0 858.5 582.6C858.2 583.2 857.8 583.8 857.2 584.1C856.7 584.5 856.1 584.7 855.5 584.7C854.9 584.7 854.3 584.5 853.8 584.1C853.2 583.8 852.8 583.2 852.5 582.6C852.2 582.0 852.0 581.2 852.0 580.5C852.0 579.8 852.2 579.0 852.5 578.4C852.8 577.8 853.2 577.2 853.8 576.9C854.3 576.5 854.9 576.3 855.5 576.3C856.1 576.3 856.7 576.5 857.2 576.9C857.8 577.2 858.2 577.8 858.5 578.4C858.8 579.0 859.0 579.8 859.0 580.5Z" fill="#66ffff"/>
<path d="M902.0 585.8C902.0 585.9 901.9 586.1 901.9 586.2C901.8 586.3 901.6 586.4 901.5 586.5C901.4 586.6 901.2 586.6 901.0 586.6C900.8 586.6 900.6 586.6 900.5 586.5C900.4 586.4 900.2 586.3 900.1 586.2C900.1 586.1 900.0 585.9 900.0 585.8C900.0 585.7 900.1 585.5 900.1 585.4C900.2 585.3 900.4 585.2 900.5 585.1C900.6 585.0 900.8 585.0 901.0 585.0C901.2 585.0 901.4 585.0 901.5 585.1C901.6 585.2 901.8 585.3 901.9 585.4C901.9 585.5 902.0 585.7 902.0 585.8Z" fill="#66ffff"/>
<path d="M938.9 603.0C938.9 604.0 938.7 605.1 938.3 606.0C938.0 606.9 937.4 607.7 936.8 608.2C936.2 608.7 935.4 609.0 934.7 609.0C934.0 609.0 933.2 608.7 932.6 608.2C932.0 607.7 931.4 606.9 931.1 606.0C930.7 605.1 930.5 604.0 930.5 603.0C930.5 602.0 930.7 600.9 931.1 600.0C931.4 599.1 932.0 598.3 932.6 597.8C933.2 597.3 934.0 597.0 934.7 597.0C935.4 597.0 936.2 597.3 936.8 597.8C937.4 598.3 938.0 599.1 938.3 600.0C938.7 600.9 938.9 602.0 938.9 603.0Z" fill="#66ffff"/>
<path d="M938.0 603.3C938.0 603.8 937.9 604.3 937.7 604.7C937.5 605.1 937.1 605.5 936.8 605.7C936.5 606.0 936.0 606.1 935.6 606.1C935.2 606.1 934.7 606.0 934.4 605.7C934.1 605.5 933.7 605.1 933.5 604.7C933.3 604.3 933.2 603.8 933.2 603.3C933.2 602.8 933.3 602.3 933.5 601.9C933.7 601.5 934.1 601.1 934.4 600.9C934.7 600.6 935.2 600.5 935.6 600.5C936.0 600.5 936.5 600.6 936.8 600.9C937.1 601.1 937.5 601.5 937.7 601.9C937.9 602.3 938.0 602.8 938.0 603.3Z" fill="#3399ff"/>
<path d="M873.6 613.7C873.9 614.2 874.0 614.8 874.0 615.4C874.0 615.9 873.8 616.6 873.5 617.1C873.2 617.6 872.7 618.1 872.1 618.4C871.6 618.7 871.0 618.9 870.4 618.9C869.8 618.9 869.1 618.8 868.6 618.5C868.1 618.2 867.7 617.8 867.4 617.3C867.1 616.8 867.0 616.2 867.0 615.6C867.0 615.1 867.2 614.4 867.5 613.9C867.8 613.4 868.3 612.9 868.9 612.6C869.4 612.3 870.0 612.1 870.6 612.1C871.2 612.1 871.9 612.2 872.4 612.5C872.9 612.8 873.3 613.2 873.6 613.7Z" fill="#66ffff"/>
<path d="M866.5 629.9C866.8 630.5 867.1 631.3 867.2 632.0C867.3 632.6 867.2 633.3 867.1 633.8C867.0 634.3 866.7 634.6 866.4 634.8C866.0 634.9 865.6 634.9 865.1 634.7C864.7 634.5 864.1 634.1 863.7 633.6C863.3 633.1 862.8 632.4 862.5 631.7C862.2 631.1 861.9 630.3 861.8 629.6C861.7 629.0 861.8 628.3 861.9 627.8C862.0 627.3 862.3 627.0 862.6 626.8C863.0 626.7 863.4 626.7 863.9 626.9C864.3 627.1 864.9 627.5 865.3 628.0C865.7 628.5 866.2 629.2 866.5 629.9Z" fill="#66ffff"/>
<path d="M912.0 627.1C912.2 627.6 912.3 628.4 912.2 629.0C912.1 629.7 911.7 630.4 911.3 631.0C910.8 631.6 910.1 632.1 909.4 632.4C908.7 632.8 907.8 633.0 907.1 633.0C906.4 632.9 905.6 632.7 905.0 632.4C904.4 632.1 903.9 631.5 903.6 630.9C903.4 630.4 903.3 629.6 903.4 629.0C903.5 628.3 903.9 627.6 904.3 627.0C904.8 626.4 905.5 625.9 906.2 625.6C906.9 625.2 907.8 625.0 908.5 625.0C909.2 625.1 910.0 625.3 910.6 625.6C911.2 625.9 911.7 626.5 912.0 627.1Z" fill="#66ffff"/>
<path d="M827.0 648.7C827.2 647.0 827.8 644.7 829.3 643.7C830.8 642.8 834.1 642.5 836.0 643.0C837.9 643.5 838.9 646.4 840.7 646.7C842.5 647.0 845.2 645.0 846.7 645.0C848.2 645.0 849.2 645.7 850.0 646.7C850.8 647.8 850.2 650.9 851.3 651.3C852.4 651.7 854.9 649.2 856.7 649.3C858.5 649.4 861.0 650.7 862.0 652.0C863.0 653.3 863.2 655.3 862.7 657.3C862.2 659.3 860.5 662.0 859.3 664.0C858.1 666.0 856.7 668.6 855.3 669.3C853.9 670.0 852.4 669.5 850.7 668.0C849.0 666.5 847.3 662.0 845.3 660.0C843.3 658.0 840.8 656.2 838.7 656.0C836.6 655.8 834.5 659.0 832.7 658.7C830.9 658.4 829.0 655.7 828.0 654.0C827.0 652.3 826.8 650.4 827.0 648.7Z" fill="#66ffff"/>
<path d="M839.1 648.6C839.4 649.5 839.6 650.7 839.5 651.7C839.3 652.7 838.9 653.8 838.4 654.5C837.8 655.3 837.0 655.9 836.1 656.2C835.3 656.5 834.2 656.6 833.3 656.4C832.4 656.2 831.4 655.6 830.7 654.9C829.9 654.2 829.3 653.2 828.9 652.2C828.6 651.3 828.4 650.1 828.5 649.1C828.7 648.1 829.1 647.0 829.6 646.3C830.2 645.5 831.0 644.9 831.9 644.6C832.7 644.3 833.8 644.2 834.7 644.4C835.6 644.6 836.6 645.2 837.3 645.9C838.1 646.6 838.7 647.6 839.1 648.6Z" fill="#3399ff"/>
<path d="M837.9 649.0C838.1 649.8 838.2 650.7 838.2 651.4C838.1 652.2 837.8 653.0 837.4 653.5C837.0 654.1 836.3 654.6 835.7 654.8C835.1 655.0 834.3 655.1 833.6 654.9C832.9 654.7 832.2 654.3 831.6 653.8C831.1 653.3 830.6 652.5 830.3 651.8C830.1 651.0 830.0 650.1 830.0 649.4C830.1 648.6 830.4 647.8 830.8 647.3C831.2 646.7 831.9 646.2 832.5 646.0C833.1 645.8 833.9 645.7 834.6 645.9C835.3 646.1 836.0 646.5 836.6 647.0C837.1 647.5 837.6 648.3 837.9 649.0Z" fill="#0000ff"/>
<path d="M836.9 650.7C836.9 651.2 836.8 651.7 836.5 652.1C836.3 652.4 835.9 652.8 835.5 653.0C835.0 653.3 834.5 653.4 834.0 653.4C833.5 653.4 833.0 653.3 832.5 653.0C832.1 652.8 831.7 652.4 831.5 652.1C831.2 651.7 831.1 651.2 831.1 650.7C831.1 650.2 831.2 649.7 831.5 649.4C831.7 649.0 832.1 648.6 832.5 648.4C833.0 648.1 833.5 648.0 834.0 648.0C834.5 648.0 835.0 648.1 835.5 648.4C835.9 648.6 836.3 649.0 836.5 649.4C836.8 649.7 836.9 650.2 836.9 650.7Z" fill="#00ff00"/>
<path d="M850.0 660.7C851.0 659.0 855.2 654.2 856.7 653.3C858.2 652.4 858.8 654.3 859.3 655.3C859.8 656.3 860.1 657.7 859.7 659.3C859.3 660.9 857.9 663.7 856.7 664.7C855.5 665.7 853.8 665.5 852.7 665.3C851.7 665.1 850.9 664.1 850.4 663.3C849.9 662.5 849.0 662.4 850.0 660.7Z" fill="#3399ff"/>
<path d="M827.7 667.3C828.1 668.3 828.3 669.4 828.2 670.4C828.2 671.4 827.9 672.4 827.5 673.1C827.1 673.8 826.4 674.4 825.7 674.6C825.0 674.9 824.1 674.9 823.4 674.6C822.6 674.3 821.7 673.7 821.1 673.0C820.4 672.3 819.8 671.3 819.5 670.3C819.1 669.3 818.9 668.2 819.0 667.2C819.0 666.2 819.3 665.2 819.7 664.5C820.1 663.8 820.8 663.2 821.5 663.0C822.2 662.7 823.1 662.7 823.8 663.0C824.6 663.3 825.5 663.9 826.1 664.6C826.8 665.3 827.4 666.3 827.7 667.3Z" fill="#66ffff"/>
<path d="M825.1 668.1C825.3 668.5 825.3 669.1 825.3 669.5C825.3 669.9 825.3 670.3 825.1 670.6C824.9 670.9 824.7 671.1 824.4 671.2C824.2 671.3 823.8 671.3 823.5 671.2C823.2 671.1 822.8 670.8 822.6 670.5C822.3 670.2 822.1 669.7 821.9 669.3C821.7 668.9 821.7 668.3 821.7 667.9C821.7 667.5 821.7 667.1 821.9 666.8C822.1 666.5 822.3 666.3 822.6 666.2C822.8 666.1 823.2 666.1 823.5 666.2C823.8 666.3 824.2 666.6 824.4 666.9C824.7 667.2 824.9 667.7 825.1 668.1Z" fill="#3399ff"/>
<path d="M929.8 642.7C929.9 642.9 929.9 643.3 929.9 643.6C929.8 643.9 929.6 644.2 929.3 644.6C929.1 644.9 928.7 645.2 928.3 645.4C927.9 645.6 927.5 645.8 927.1 645.9C926.7 645.9 926.3 645.9 925.9 645.8C925.6 645.7 925.4 645.5 925.2 645.3C925.1 645.1 925.1 644.7 925.1 644.4C925.2 644.1 925.4 643.8 925.7 643.4C925.9 643.1 926.3 642.8 926.7 642.6C927.1 642.4 927.5 642.2 927.9 642.1C928.3 642.1 928.7 642.1 929.1 642.2C929.4 642.3 929.6 642.5 929.8 642.7Z" fill="#66ffff"/>
<path d="M887.7 673.3C887.7 671.8 889.1 671.1 890.0 672.0C890.9 672.9 891.5 677.2 893.3 678.7C895.1 680.2 898.8 679.6 900.7 680.7C902.6 681.8 903.8 682.8 904.7 685.3C905.6 687.8 905.5 692.4 906.0 696.0C906.5 699.6 907.7 703.9 907.7 706.7C907.7 709.5 906.7 711.5 906.0 712.7C905.3 713.9 904.5 714.6 903.3 714.0C902.1 713.4 899.9 711.6 898.7 709.3C897.5 707.0 897.0 703.1 896.0 700.0C895.0 696.9 893.7 693.8 892.7 690.7C891.7 687.6 890.8 684.2 890.0 681.3C889.2 678.4 887.7 674.8 887.7 673.3Z" fill="#66ffff"/>
<path d="M897.0 685.3C897.7 684.7 900.3 684.7 901.0 685.3C901.7 685.9 901.7 688.4 901.0 689.0C900.3 689.6 897.7 689.6 897.0 689.0C896.3 688.4 896.3 685.9 897.0 685.3Z" fill="#3399ff"/>
<path d="M576.6 690.6C576.6 691.2 576.4 691.9 576.2 692.4C575.9 692.9 575.5 693.4 575.0 693.7C574.5 694.0 573.9 694.2 573.4 694.2C572.9 694.2 572.3 694.0 571.8 693.7C571.3 693.4 570.9 692.9 570.6 692.4C570.4 691.9 570.2 691.2 570.2 690.6C570.2 690.0 570.4 689.3 570.6 688.8C570.9 688.3 571.3 687.8 571.8 687.5C572.3 687.2 572.9 687.0 573.4 687.0C573.9 687.0 574.5 687.2 575.0 687.5C575.5 687.8 575.9 688.3 576.2 688.8C576.4 689.3 576.6 690.0 576.6 690.6Z" fill="#66ffff"/>
<path d="M737.0 678.6C737.0 678.8 737.0 679.0 736.9 679.1C736.9 679.2 736.8 679.4 736.7 679.5C736.6 679.5 736.5 679.6 736.4 679.6C736.3 679.6 736.2 679.5 736.1 679.5C736.0 679.4 735.9 679.2 735.9 679.1C735.8 679.0 735.8 678.8 735.8 678.6C735.8 678.4 735.8 678.2 735.9 678.1C735.9 678.0 736.0 677.8 736.1 677.7C736.2 677.7 736.3 677.6 736.4 677.6C736.5 677.6 736.6 677.7 736.7 677.7C736.8 677.8 736.9 678.0 736.9 678.1C737.0 678.2 737.0 678.4 737.0 678.6Z" fill="#66ffff"/>
<path d="M561.9 416.0C561.9 416.8 561.7 417.8 561.4 418.5C561.1 419.2 560.5 419.9 560.0 420.3C559.4 420.7 558.6 421.0 558.0 421.0C557.4 421.0 556.6 420.7 556.0 420.3C555.5 419.9 554.9 419.2 554.6 418.5C554.3 417.8 554.1 416.8 554.1 416.0C554.1 415.2 554.3 414.2 554.6 413.5C554.9 412.8 555.5 412.1 556.0 411.7C556.6 411.3 557.4 411.0 558.0 411.0C558.6 411.0 559.4 411.3 560.0 411.7C560.5 412.1 561.1 412.8 561.4 413.5C561.7 414.2 561.9 415.2 561.9 416.0Z" fill="#66ffff"/>
<path d="M578.9 400.3C578.9 400.9 578.7 401.5 578.5 402.0C578.2 402.5 577.8 403.0 577.3 403.2C576.8 403.5 576.2 403.7 575.7 403.7C575.2 403.7 574.6 403.5 574.1 403.2C573.6 403.0 573.2 402.5 572.9 402.0C572.7 401.5 572.5 400.9 572.5 400.3C572.5 399.7 572.7 399.1 572.9 398.6C573.2 398.1 573.6 397.6 574.1 397.4C574.6 397.1 575.2 396.9 575.7 396.9C576.2 396.9 576.8 397.1 577.3 397.4C577.8 397.6 578.2 398.1 578.5 398.6C578.7 399.1 578.9 399.7 578.9 400.3Z" fill="#66ffff"/>
</g>
<g stroke="#969696" stroke-width="1.1" fill="none">
<path d="M262.9 124.4H937.6" stroke-dasharray="1.9 7.908"/>
<path d="M262.9 191.8H937.6" stroke-dasharray="1.9 7.908"/>
<path d="M262.9 259.1H937.6" stroke-dasharray="1.9 7.908"/>
<path d="M262.9 326.5H937.6" stroke-dasharray="1.9 7.908"/>
<path d="M262.9 393.8H937.6" stroke-dasharray="1.9 7.908"/>
<path d="M262.9 461.2H937.6" stroke-dasharray="1.9 7.908"/>
<path d="M262.9 528.6H937.6" stroke-dasharray="1.9 7.908"/>
<path d="M262.9 595.9H937.6" stroke-dasharray="1.9 7.908"/>
<path d="M262.9 663.3H937.6" stroke-dasharray="1.9 7.908"/>
<path d="M262.9 730.6H937.6" stroke-dasharray="1.9 7.908"/>
<path d="M262.9 798.0H937.6" stroke-dasharray="1.9 7.908"/>
<path d="M301.1 821.0V79.6" stroke-dasharray="1.6 7.935"/>
<path d="M358.9 821.0V79.6" stroke-dasharray="1.6 7.935"/>
<path d="M416.8 821.0V79.6" stroke-dasharray="1.6 7.935"/>
<path d="M474.6 821.0V79.6" stroke-dasharray="1.6 7.935"/>
<path d="M532.5 821.0V79.6" stroke-dasharray="1.6 7.935"/>
<path d="M590.3 821.0V79.6" stroke-dasharray="1.6 7.935"/>
<path d="M648.1 821.0V79.6" stroke-dasharray="1.6 7.935"/>
<path d="M706.0 821.0V79.6" stroke-dasharray="1.6 7.935"/>
<path d="M763.8 821.0V79.6" stroke-dasharray="1.6 7.935"/>
<path d="M821.7 821.0V79.6" stroke-dasharray="1.6 7.935"/>
<path d="M879.5 821.0V79.6" stroke-dasharray="1.6 7.935"/>
</g>
<g clip-path="url(#cp)" stroke="#000" stroke-width="1.05" fill="none" stroke-linejoin="round">
<path d="M278.0 79.4L288.0 95.0L295.6 102.0L301.0 112.0L304.0 122.0L322.4 129.4L326.0 139.4L318.0 135.6L310.6 141.4L318.0 149.0L322.6 155.6L318.0 163.4L307.4 161.4L298.6 165.6L291.4 159.6L278.4 171.4L295.0 179.0L308.6 191.4L318.6 189.4L325.4 195.6L327.4 207.0L327.4 222.0L324.4 233.0L332.6 229.4L329.4 239.4L321.4 243.0L313.6 249.6L303.6 252.0L302.0 255.0L300.6 261.6L305.6 271.6L301.0 279.0L293.6 285.4L288.0 293.4L293.4 302.0L291.4 313.4L293.4 325.4L299.0 335.0L305.6 353.4L331.0 393.4L348.0 401.0L359.6 401.0L380.0 405.0L389.0 409.0L403.0 421.0L412.0 435.0L429.0 461.0L437.4 465.0L444.4 445.0L453.0 441.0L454.4 429.4L464.4 431.4L475.0 416.0L481.6 409.6L472.0 411.4L469.0 400.0L468.6 385.4L456.6 385.4L449.0 379.4L439.0 377.4L430.6 373.4L420.0 357.0L411.4 351.6L407.4 315.0L399.4 309.4L407.0 313.8L416.0 331.0L425.0 335.4L435.6 333.4L441.0 341.0L451.4 343.4L456.6 351.4L464.4 355.4L470.0 363.0L479.0 369.4L489.0 373.6L498.0 375.6L489.0 379.4L498.4 377.4L505.6 384.0L507.6 396.0L515.0 401.6L525.0 417.0L525.4 432.0L519.6 439.4L518.0 451.0L525.0 457.6L530.0 465.6L536.0 471.0L543.6 479.0L554.0 477.0L563.0 478.6L573.0 483.4L592.0 487.0L610.0 494.6L621.0 511.0L631.0 513.0L646.0 520.0L658.0 525.0L672.0 537.0L677.0 544.6L687.0 550.0L698.0 563.0L705.0 569.0L709.6 578.0L718.0 585.0L723.0 594.0L725.6 603.0L722.0 613.0L724.0 625.0L728.6 633.0L722.0 639.6L717.0 646.4L727.0 644.4L719.0 648.4L717.0 660.0L704.0 672.0L700.0 682.0L708.0 698.0L723.0 710.0L729.0 718.6L737.0 722.4L749.0 720.6L783.6 736.6L788.6 729.0L789.0 714.0L786.0 704.0L780.0 696.0L763.6 688.6L758.0 678.0L751.6 660.4L773.0 656.6L783.6 673.0L800.0 680.0L811.0 682.6L817.6 688.0L806.0 689.0L811.0 697.0L821.0 698.6L813.0 702.6L818.0 711.0L821.4 723.0L816.0 731.0L814.4 742.6L828.0 754.6L838.0 759.0L848.0 771.0L854.0 781.0L861.0 799.0L860.6 814.4L867.6 814.4L869.6 802.4L866.0 793.0L865.6 778.0L867.6 766.0L873.0 758.4L890.0 750.6L900.0 748.6L920.0 753.0L930.0 756.6L937.5 758.0"/>
<path d="M862.4 812.0L862.4 797.0L856.6 781.0L854.0 765.0L849.0 762.0L831.4 746.6L840.0 743.0L848.0 736.0L852.4 728.4L862.0 726.4L869.6 720.0L874.6 713.0L875.0 700.0L873.3 688.0L871.6 675.0L860.0 658.7L857.5 648.8L864.3 642.7L867.3 632.7L884.7 625.0L892.0 618.7L895.0 609.0L889.3 600.7L881.3 597.0L874.0 588.7L864.7 584.7L856.0 583.0L854.0 582.7L854.0 496.0L859.3 488.7L866.7 485.3L871.7 485.3L872.7 483.3L866.0 471.3L871.0 463.3L881.3 461.3L889.3 465.3L894.7 473.0L908.7 485.0L916.0 482.0L918.0 480.0L920.7 471.0L926.0 469.3"/>
<path d="M674.0 79.4L675.6 93.0L678.0 107.0L684.0 124.0L689.0 135.0L699.0 152.0L703.0 163.4L713.0 161.6L718.0 166.0L722.6 173.0L729.0 191.6L723.6 184.0L723.4 195.0L720.4 207.0L728.6 203.6L733.6 211.6L735.6 224.0L742.0 242.6L747.6 251.6L750.4 260.6L756.0 269.6L759.6 279.6L784.0 318.6L792.4 325.6L817.6 365.0L824.4 371.4L835.0 369.5L838.2 378.5L869.0 427.0L877.3 430.7L880.7 440.0L886.4 449.0L895.3 453.3L915.3 457.0L921.3 465.3L937.3 478.7"/>
<path d="M322.4 129.4L324.4 122.0L328.0 116.0L331.6 110.6L334.6 101.6L344.6 99.6L359.0 111.6L368.0 116.0L387.0 119.4L473.0 159.6L481.0 156.0L488.0 150.6L494.0 145.0L500.0 142.0L503.0 140.4L511.0 133.4L519.4 129.6L526.6 135.6L538.0 135.6L546.0 142.0L553.6 145.6L561.4 154.0L569.4 157.6L579.6 147.6L583.0 157.0L588.0 165.6L605.4 173.4L608.6 183.0L610.6 195.6L622.4 195.6L631.0 199.6L639.6 195.4L648.0 199.4L662.0 211.6L671.0 210.0L681.0 205.6L689.6 199.6L699.0 197.6L707.0 194.4L715.0 188.0L714.0 179.0L712.0 163.0"/>
<path d="M326.0 79.4L333.0 86.0L349.6 94.0L355.0 102.0L372.0 110.0L392.0 113.6L402.0 118.0L408.4 123.6L420.0 125.6L430.0 125.6L440.0 128.0L458.0 135.4L469.0 135.4L478.0 139.6L488.0 138.0L495.0 132.0L498.4 123.0L497.4 115.0L498.0 105.0L499.0 97.0L496.0 89.0L491.0 80.0"/>
<path d="M450.0 101.4L456.0 109.4L447.4 113.4Z"/>
<path d="M423.0 343.4L431.6 345.4L437.0 353.0L427.6 355.4L420.6 349.0Z"/>
</g>
<rect x="262.7" y="79.6" width="674.9" height="740.8" fill="none" stroke="#000" stroke-width="1.5"/>
<g stroke="#000" stroke-width="1.3">
<path d="M257 124.4H262.7"/>
<path d="M257 191.8H262.7"/>
<path d="M257 259.1H262.7"/>
<path d="M257 326.5H262.7"/>
<path d="M257 393.8H262.7"/>
<path d="M257 461.2H262.7"/>
<path d="M257 528.6H262.7"/>
<path d="M257 595.9H262.7"/>
<path d="M257 663.3H262.7"/>
<path d="M257 730.6H262.7"/>
<path d="M257 798.0H262.7"/>
<path d="M301.1 820.4V825.5"/>
<path d="M358.9 820.4V825.5"/>
<path d="M416.8 820.4V825.5"/>
<path d="M474.6 820.4V825.5"/>
<path d="M532.5 820.4V825.5"/>
<path d="M590.3 820.4V825.5"/>
<path d="M648.1 820.4V825.5"/>
<path d="M706.0 820.4V825.5"/>
<path d="M763.8 820.4V825.5"/>
<path d="M821.7 820.4V825.5"/>
<path d="M879.5 820.4V825.5"/>
</g>
<g font-family="'Liberation Sans', sans-serif" font-size="16.2" fill="#000" style="font-kerning:none">
<text x="252.6" y="130.4" text-anchor="end" letter-spacing="-0.2">11.1N</text>
<text x="252.6" y="197.8" text-anchor="end" letter-spacing="-0.2">10.8N</text>
<text x="252.6" y="265.1" text-anchor="end" letter-spacing="-0.2">10.5N</text>
<text x="252.6" y="332.5" text-anchor="end" letter-spacing="-0.2">10.2N</text>
<text x="252.6" y="399.8" text-anchor="end" letter-spacing="-0.2">9.9N</text>
<text x="252.6" y="467.2" text-anchor="end" letter-spacing="-0.2">9.6N</text>
<text x="252.6" y="534.6" text-anchor="end" letter-spacing="-0.2">9.3N</text>
<text x="252.6" y="601.9" text-anchor="end" letter-spacing="-0.2">9N</text>
<text x="252.6" y="669.3" text-anchor="end" letter-spacing="-0.2">8.7N</text>
<text x="252.6" y="736.6" text-anchor="end" letter-spacing="-0.2">8.4N</text>
<text x="252.6" y="804.0" text-anchor="end" letter-spacing="-0.2">8.1N</text>
<text x="301.0" y="840.8" text-anchor="middle" letter-spacing="-0.42">85.8W</text>
<text x="358.8" y="840.8" text-anchor="middle" letter-spacing="-0.42">85.5W</text>
<text x="416.7" y="840.8" text-anchor="middle" letter-spacing="-0.42">85.2W</text>
<text x="474.5" y="840.8" text-anchor="middle" letter-spacing="-0.42">84.9W</text>
<text x="532.4" y="840.8" text-anchor="middle" letter-spacing="-0.42">84.6W</text>
<text x="590.2" y="840.8" text-anchor="middle" letter-spacing="-0.42">84.3W</text>
<text x="648.0" y="840.8" text-anchor="middle" letter-spacing="-0.42">84W</text>
<text x="705.9" y="840.8" text-anchor="middle" letter-spacing="-0.42">83.7W</text>
<text x="763.7" y="840.8" text-anchor="middle" letter-spacing="-0.42">83.4W</text>
<text x="821.6" y="840.8" text-anchor="middle" letter-spacing="-0.42">83.1W</text>
<text x="879.4" y="840.8" text-anchor="middle" letter-spacing="-0.42">82.8W</text>
</g>
<g stroke="none">
<path d="M1057.9 132.3L1068.8 89.6L1079.7 132.3Z" fill="#aaaaaa"/>
<rect x="1057.9" y="132.30" width="21.8" height="42.65" fill="#f5f5f5"/>
<rect x="1057.9" y="174.65" width="21.8" height="42.65" fill="#9932cc"/>
<rect x="1057.9" y="216.99" width="21.8" height="42.65" fill="#ff00ff"/>
<rect x="1057.9" y="259.34" width="21.8" height="42.65" fill="#990000"/>
<rect x="1057.9" y="301.69" width="21.8" height="42.65" fill="#cc3300"/>
<rect x="1057.9" y="344.03" width="21.8" height="42.65" fill="#ff0000"/>
<rect x="1057.9" y="386.38" width="21.8" height="42.65" fill="#ff6600"/>
<rect x="1057.9" y="428.73" width="21.8" height="42.65" fill="#ffcc00"/>
<rect x="1057.9" y="471.07" width="21.8" height="42.65" fill="#ffff00"/>
<rect x="1057.9" y="513.42" width="21.8" height="42.65" fill="#009900"/>
<rect x="1057.9" y="555.77" width="21.8" height="42.65" fill="#00cc00"/>
<rect x="1057.9" y="598.11" width="21.8" height="42.65" fill="#00ff00"/>
<rect x="1057.9" y="640.46" width="21.8" height="42.65" fill="#0000ff"/>
<rect x="1057.9" y="682.81" width="21.8" height="42.65" fill="#3399ff"/>
<rect x="1057.9" y="725.15" width="21.8" height="42.65" fill="#66ffff"/>
</g>
<g stroke="#000" stroke-width="1.45" fill="none" stroke-linejoin="miter" stroke-linecap="square">
<path d="M1057.9 132.30L1068.8 89.9L1079.7 132.30V767.50L1068.8 810.2L1057.9 767.50Z"/>
<path d="M1057.9 132.30H1080.0"/>
<path d="M1057.9 174.65H1080.0"/>
<path d="M1057.9 216.99H1080.0"/>
<path d="M1057.9 259.34H1080.0"/>
<path d="M1057.9 301.69H1080.0"/>
<path d="M1057.9 344.03H1080.0"/>
<path d="M1057.9 386.38H1080.0"/>
<path d="M1057.9 428.73H1080.0"/>
<path d="M1057.9 471.07H1080.0"/>
<path d="M1057.9 513.42H1080.0"/>
<path d="M1057.9 555.77H1080.0"/>
<path d="M1057.9 598.11H1080.0"/>
<path d="M1057.9 640.46H1080.0"/>
<path d="M1057.9 682.81H1080.0"/>
<path d="M1057.9 725.15H1080.0"/>
<path d="M1057.9 767.50H1080.0"/>
</g>
<g font-family="'DejaVu Sans Light', 'DejaVu Sans', 'Liberation Sans', sans-serif" font-weight="200" font-size="19.6" fill="#000" stroke="#000" stroke-width="0.55">
<text x="1085.6" y="139.6" textLength="38.7" lengthAdjust="spacingAndGlyphs">200</text>
<text x="1087.2" y="181.9" textLength="36.9" lengthAdjust="spacingAndGlyphs">150</text>
<text x="1087.2" y="224.2" textLength="36.9" lengthAdjust="spacingAndGlyphs">120</text>
<text x="1087.2" y="266.6" textLength="36.9" lengthAdjust="spacingAndGlyphs">100</text>
<text x="1085.6" y="308.9" textLength="25.2" lengthAdjust="spacingAndGlyphs">90</text>
<text x="1085.6" y="351.3" textLength="25.2" lengthAdjust="spacingAndGlyphs">75</text>
<text x="1085.6" y="393.6" textLength="25.2" lengthAdjust="spacingAndGlyphs">60</text>
<text x="1085.6" y="436.0" textLength="25.2" lengthAdjust="spacingAndGlyphs">50</text>
<text x="1085.6" y="478.3" textLength="25.2" lengthAdjust="spacingAndGlyphs">40</text>
<text x="1085.6" y="520.7" textLength="25.2" lengthAdjust="spacingAndGlyphs">30</text>
<text x="1085.6" y="563.0" textLength="25.2" lengthAdjust="spacingAndGlyphs">25</text>
<text x="1085.6" y="605.4" textLength="25.2" lengthAdjust="spacingAndGlyphs">20</text>
<text x="1087.2" y="647.7" textLength="22.4" lengthAdjust="spacingAndGlyphs">15</text>
<text x="1087.2" y="690.1" textLength="43.8" lengthAdjust="spacingAndGlyphs">12.5</text>
<text x="1085.6" y="732.4" textLength="12.0" lengthAdjust="spacingAndGlyphs">7</text>
<text x="1085.6" y="774.8" textLength="32.0" lengthAdjust="spacingAndGlyphs">3.5</text>
</g>
<g font-family="'DejaVu Sans Light', 'DejaVu Sans', 'Liberation Sans', sans-serif" font-weight="200" font-size="31.6" fill="#000" stroke="#000" stroke-width="0.2"><text y="29.9"><tspan x="129.9" textLength="9.32" lengthAdjust="spacingAndGlyphs">I</tspan><tspan x="136.2" textLength="25.97" lengthAdjust="spacingAndGlyphs">M</tspan><tspan x="160.7" textLength="23.01" lengthAdjust="spacingAndGlyphs">N</tspan><tspan x="187.0" textLength="12.24" lengthAdjust="spacingAndGlyphs">/</tspan><tspan x="203.2" textLength="19.96" lengthAdjust="spacingAndGlyphs">S</tspan><tspan x="222.7" textLength="17.95" lengthAdjust="spacingAndGlyphs">A</tspan><tspan x="241.1" textLength="18.37" lengthAdjust="spacingAndGlyphs">R</tspan><tspan x="259.4" textLength="17.95" lengthAdjust="spacingAndGlyphs">A</tspan><tspan x="276.0" textLength="20.99" lengthAdjust="spacingAndGlyphs">P</tspan><tspan x="296.2" textLength="9.32" lengthAdjust="spacingAndGlyphs">I</tspan><tspan x="305.8" textLength="18.42" lengthAdjust="spacingAndGlyphs">Q</tspan><tspan x="325.6" textLength="18.72" lengthAdjust="spacingAndGlyphs">U</tspan><tspan x="345.9" textLength="9.32" lengthAdjust="spacingAndGlyphs">I</tspan><tspan x="353.9" textLength="18.09" lengthAdjust="spacingAndGlyphs">_</tspan><tspan x="372.8" textLength="20.60" lengthAdjust="spacingAndGlyphs">5</tspan> <tspan x="408.5" textLength="20.99" lengthAdjust="spacingAndGlyphs">P</tspan><tspan x="430.3" textLength="10.28" lengthAdjust="spacingAndGlyphs">r</tspan><tspan x="441.9" textLength="19.51" lengthAdjust="spacingAndGlyphs">e</tspan><tspan x="460.5" textLength="18.09" lengthAdjust="spacingAndGlyphs">c</tspan><tspan x="476.0" textLength="8.78" lengthAdjust="spacingAndGlyphs">i</tspan><tspan x="484.1" textLength="19.87" lengthAdjust="spacingAndGlyphs">p</tspan><tspan x="501.5" textLength="8.78" lengthAdjust="spacingAndGlyphs">i</tspan><tspan x="509.8" textLength="9.41" lengthAdjust="spacingAndGlyphs">t</tspan><tspan x="520.9" textLength="19.08" lengthAdjust="spacingAndGlyphs">a</tspan><tspan x="539.7" textLength="17.96" lengthAdjust="spacingAndGlyphs">c</tspan><tspan x="556.0" textLength="8.78" lengthAdjust="spacingAndGlyphs">i</tspan><tspan x="564.4" textLength="19.71" lengthAdjust="spacingAndGlyphs">o</tspan><tspan x="584.8" textLength="15.96" lengthAdjust="spacingAndGlyphs">n</tspan> <tspan x="617.7" textLength="17.95" lengthAdjust="spacingAndGlyphs">A</tspan><tspan x="636.3" textLength="18.09" lengthAdjust="spacingAndGlyphs">c</tspan><tspan x="655.0" textLength="15.96" lengthAdjust="spacingAndGlyphs">u</tspan><tspan x="671.1" textLength="28.54" lengthAdjust="spacingAndGlyphs">m</tspan><tspan x="700.0" textLength="15.96" lengthAdjust="spacingAndGlyphs">u</tspan><tspan x="716.5" textLength="8.78" lengthAdjust="spacingAndGlyphs">l</tspan><tspan x="725.2" textLength="18.94" lengthAdjust="spacingAndGlyphs">a</tspan><tspan x="742.7" textLength="19.87" lengthAdjust="spacingAndGlyphs">d</tspan><tspan x="760.9" textLength="19.08" lengthAdjust="spacingAndGlyphs">a</tspan> <tspan x="796.0" textLength="19.51" lengthAdjust="spacingAndGlyphs">e</tspan><tspan x="815.6" textLength="16.11" lengthAdjust="spacingAndGlyphs">n</tspan> <tspan x="848.8" textLength="19.70" lengthAdjust="spacingAndGlyphs">6</tspan> <tspan x="885.3" textLength="16.26" lengthAdjust="spacingAndGlyphs">h</tspan><tspan x="901.7" textLength="19.71" lengthAdjust="spacingAndGlyphs">o</tspan><tspan x="921.3" textLength="10.56" lengthAdjust="spacingAndGlyphs">r</tspan><tspan x="933.2" textLength="19.08" lengthAdjust="spacingAndGlyphs">a</tspan><tspan x="952.3" textLength="16.16" lengthAdjust="spacingAndGlyphs">s</tspan> <tspan x="983.5" textLength="16.68" lengthAdjust="spacingAndGlyphs">(</tspan><tspan x="998.6" textLength="27.12" lengthAdjust="spacingAndGlyphs">m</tspan><tspan x="1027.4" textLength="27.37" lengthAdjust="spacingAndGlyphs">m</tspan><tspan x="1053.3" textLength="17.56" lengthAdjust="spacingAndGlyphs">)</tspan></text></g>
<g font-family="'DejaVu Sans Light', 'DejaVu Sans', 'Liberation Sans', sans-serif" font-weight="200" font-size="31.6" fill="#000" stroke="#000" stroke-width="0.2"><text y="61.3"><tspan x="462.0" y="61.3" textLength="75.0" lengthAdjust="spacingAndGlyphs">2026</tspan><tspan x="538.8" y="59.6" textLength="23.4" lengthAdjust="spacingAndGlyphs">-</tspan><tspan x="563.0" y="61.3" textLength="38.0" lengthAdjust="spacingAndGlyphs">03</tspan><tspan x="601.6" y="59.6" textLength="23.4" lengthAdjust="spacingAndGlyphs">-</tspan><tspan x="625.8" y="61.3" textLength="38.2" lengthAdjust="spacingAndGlyphs">08</tspan><tspan x="664.0" y="61.3" textLength="18.0" lengthAdjust="spacingAndGlyphs"> </tspan><tspan x="681.5" y="61.3" textLength="56.5" lengthAdjust="spacingAndGlyphs">21Z</tspan></text></g>
<g font-family="'DejaVu Sans Light', 'DejaVu Sans', 'Liberation Sans', sans-serif" font-weight="200" font-size="21.5" fill="#000" >
<text x="327.5" y="876.2" textLength="102.5" lengthAdjust="spacing">Instituto</text>
<text x="445.5" y="876.2" textLength="175.5" lengthAdjust="spacing">Meteorologico</text>
<text x="635.5" y="876.2" textLength="107.5" lengthAdjust="spacing">Nacional</text>
<text x="758.5" y="876.2" textLength="71.0" lengthAdjust="spacing">Costa</text>
<text x="845.0" y="876.2" textLength="53.5" lengthAdjust="spacing">Rica</text>
</g>
</svg>
</body></html>
